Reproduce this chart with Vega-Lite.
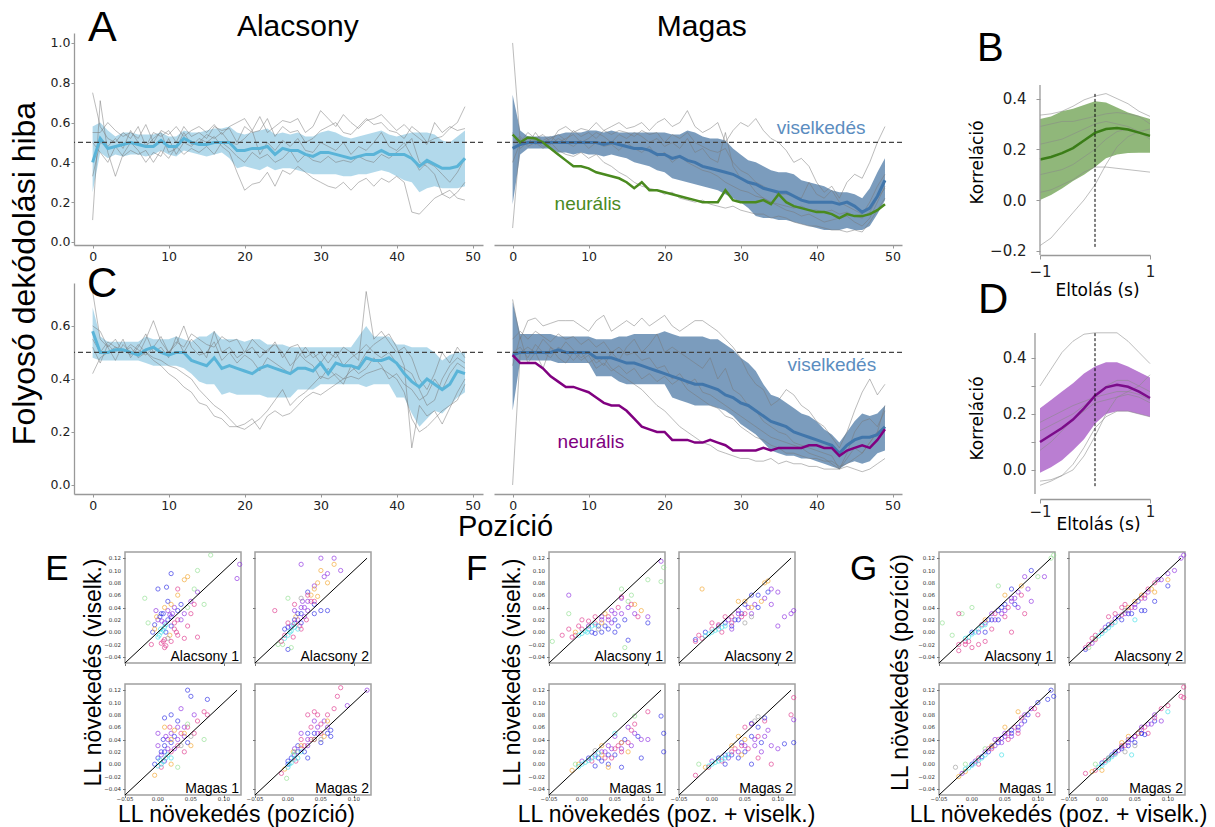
{
"$schema":"https://vega.github.io/schema/vega-lite/v6.json",
"autosize":{"type":"none"},
"padding":{"left":74,"top":33,"right":1141,"bottom":794},
"background":"white",
"spacing":9,
"config":{
 "view":{"stroke":null},
 "axis":{"grid":false,"domainColor":"#999","domainWidth":1.3,"tickColor":"#999","tickWidth":1,"labelFont":"DejaVu Sans","labelColor":"#222","titleFont":"Liberation Sans","titleFontWeight":"normal","titleColor":"#000","labelFlush":false,"labelOverlap":false},
 "text":{"font":"Liberation Sans","color":"#000"}
},
"datasets":{
"yt":[{"t":-0.04},{"t":-0.02},{"t":0},{"t":0.02},{"t":0.04},{"t":0.06},{"t":0.08},{"t":0.1},{"t":0.12}],
"xt":[{"t":-0.05},{"t":0},{"t":0.05},{"t":0.1}],
"a1":[
{"x":0,"m":0.40,"lo":0.25,"hi":0.58,"g1":0.75,"g2":0.11,"g3":0.33,"g4":0.50,"g5":0.55},
{"x":1,"m":0.52,"lo":0.45,"hi":0.60,"g1":0.58,"g2":0.71,"g3":0.50,"g4":0.45,"g5":0.55},
{"x":2,"m":0.47,"lo":0.42,"hi":0.56,"g1":0.52,"g2":0.45,"g3":0.48,"g4":0.40,"g5":0.60},
{"x":3,"m":0.48,"lo":0.44,"hi":0.53,"g1":0.50,"g2":0.33,"g3":0.52,"g4":0.48,"g5":0.56},
{"x":4,"m":0.49,"lo":0.43,"hi":0.55,"g1":0.55,"g2":0.44,"g3":0.47,"g4":0.43,"g5":0.53},
{"x":5,"m":0.50,"lo":0.44,"hi":0.55,"g1":0.52,"g2":0.50,"g3":0.56,"g4":0.46,"g5":0.55},
{"x":6,"m":0.49,"lo":0.44,"hi":0.54,"g1":0.58,"g2":0.46,"g3":0.50,"g4":0.44,"g5":0.52},
{"x":7,"m":0.48,"lo":0.43,"hi":0.54,"g1":0.48,"g2":0.40,"g3":0.48,"g4":0.46,"g5":0.59},
{"x":8,"m":0.48,"lo":0.44,"hi":0.54,"g1":0.55,"g2":0.45,"g3":0.52,"g4":0.40,"g5":0.50},
{"x":9,"m":0.51,"lo":0.46,"hi":0.55,"g1":0.53,"g2":0.43,"g3":0.55,"g4":0.46,"g5":0.56},
{"x":10,"m":0.48,"lo":0.44,"hi":0.53,"g1":0.56,"g2":0.52,"g3":0.45,"g4":0.42,"g5":0.54},
{"x":11,"m":0.48,"lo":0.43,"hi":0.53,"g1":0.50,"g2":0.44,"g3":0.47,"g4":0.48,"g5":0.58},
{"x":12,"m":0.52,"lo":0.46,"hi":0.56,"g1":0.58,"g2":0.50,"g3":0.55,"g4":0.44,"g5":0.53},
{"x":13,"m":0.50,"lo":0.45,"hi":0.55,"g1":0.53,"g2":0.48,"g3":0.49,"g4":0.47,"g5":0.56},
{"x":14,"m":0.49,"lo":0.44,"hi":0.55,"g1":0.55,"g2":0.52,"g3":0.50,"g4":0.45,"g5":0.58},
{"x":15,"m":0.49,"lo":0.43,"hi":0.56,"g1":0.52,"g2":0.50,"g3":0.54,"g4":0.48,"g5":0.55},
{"x":16,"m":0.50,"lo":0.44,"hi":0.57,"g1":0.58,"g2":0.53,"g3":0.52,"g4":0.44,"g5":0.59},
{"x":17,"m":0.50,"lo":0.45,"hi":0.57,"g1":0.56,"g2":0.48,"g3":0.55,"g4":0.50,"g5":0.54},
{"x":18,"m":0.50,"lo":0.42,"hi":0.58,"g1":0.57,"g2":0.45,"g3":0.50,"g4":0.47,"g5":0.58},
{"x":19,"m":0.46,"lo":0.37,"hi":0.55,"g1":0.50,"g2":0.35,"g3":0.49,"g4":0.43,"g5":0.60},
{"x":20,"m":0.46,"lo":0.38,"hi":0.54,"g1":0.58,"g2":0.26,"g3":0.52,"g4":0.40,"g5":0.62},
{"x":21,"m":0.47,"lo":0.37,"hi":0.55,"g1":0.55,"g2":0.29,"g3":0.56,"g4":0.45,"g5":0.56},
{"x":22,"m":0.47,"lo":0.36,"hi":0.56,"g1":0.56,"g2":0.30,"g3":0.44,"g4":0.42,"g5":0.63},
{"x":23,"m":0.48,"lo":0.38,"hi":0.57,"g1":0.62,"g2":0.35,"g3":0.50,"g4":0.44,"g5":0.55},
{"x":24,"m":0.44,"lo":0.36,"hi":0.54,"g1":0.53,"g2":0.28,"g3":0.46,"g4":0.40,"g5":0.58},
{"x":25,"m":0.47,"lo":0.37,"hi":0.55,"g1":0.58,"g2":0.36,"g3":0.51,"g4":0.42,"g5":0.61},
{"x":26,"m":0.46,"lo":0.37,"hi":0.54,"g1":0.55,"g2":0.34,"g3":0.48,"g4":0.46,"g5":0.60},
{"x":27,"m":0.46,"lo":0.36,"hi":0.55,"g1":0.56,"g2":0.38,"g3":0.52,"g4":0.40,"g5":0.62},
{"x":28,"m":0.44,"lo":0.35,"hi":0.53,"g1":0.50,"g2":0.35,"g3":0.46,"g4":0.44,"g5":0.55},
{"x":29,"m":0.43,"lo":0.34,"hi":0.53,"g1":0.52,"g2":0.32,"g3":0.45,"g4":0.41,"g5":0.58},
{"x":30,"m":0.45,"lo":0.34,"hi":0.55,"g1":0.56,"g2":0.30,"g3":0.50,"g4":0.40,"g5":0.66},
{"x":31,"m":0.45,"lo":0.34,"hi":0.56,"g1":0.58,"g2":0.28,"g3":0.48,"g4":0.43,"g5":0.62},
{"x":32,"m":0.44,"lo":0.34,"hi":0.55,"g1":0.60,"g2":0.27,"g3":0.46,"g4":0.40,"g5":0.58},
{"x":33,"m":0.43,"lo":0.33,"hi":0.53,"g1":0.55,"g2":0.30,"g3":0.50,"g4":0.41,"g5":0.64},
{"x":34,"m":0.42,"lo":0.33,"hi":0.52,"g1":0.54,"g2":0.26,"g3":0.44,"g4":0.40,"g5":0.60},
{"x":35,"m":0.43,"lo":0.34,"hi":0.53,"g1":0.58,"g2":0.30,"g3":0.48,"g4":0.43,"g5":0.57},
{"x":36,"m":0.44,"lo":0.34,"hi":0.54,"g1":0.62,"g2":0.32,"g3":0.46,"g4":0.41,"g5":0.61},
{"x":37,"m":0.44,"lo":0.35,"hi":0.55,"g1":0.59,"g2":0.28,"g3":0.50,"g4":0.40,"g5":0.62},
{"x":38,"m":0.46,"lo":0.36,"hi":0.56,"g1":0.60,"g2":0.32,"g3":0.55,"g4":0.44,"g5":0.64},
{"x":39,"m":0.44,"lo":0.35,"hi":0.54,"g1":0.56,"g2":0.30,"g3":0.48,"g4":0.42,"g5":0.60},
{"x":40,"m":0.44,"lo":0.33,"hi":0.53,"g1":0.55,"g2":0.33,"g3":0.46,"g4":0.45,"g5":0.56},
{"x":41,"m":0.44,"lo":0.31,"hi":0.54,"g1":0.52,"g2":0.30,"g3":0.50,"g4":0.48,"g5":0.59},
{"x":42,"m":0.42,"lo":0.30,"hi":0.55,"g1":0.58,"g2":0.15,"g3":0.43,"g4":0.52,"g5":0.55},
{"x":43,"m":0.38,"lo":0.25,"hi":0.55,"g1":0.55,"g2":0.14,"g3":0.36,"g4":0.40,"g5":0.52},
{"x":44,"m":0.41,"lo":0.27,"hi":0.55,"g1":0.50,"g2":0.18,"g3":0.40,"g4":0.38,"g5":0.49},
{"x":45,"m":0.39,"lo":0.28,"hi":0.54,"g1":0.52,"g2":0.22,"g3":0.38,"g4":0.34,"g5":0.60},
{"x":46,"m":0.37,"lo":0.27,"hi":0.51,"g1":0.53,"g2":0.24,"g3":0.34,"g4":0.24,"g5":0.55},
{"x":47,"m":0.37,"lo":0.27,"hi":0.50,"g1":0.57,"g2":0.22,"g3":0.30,"g4":0.26,"g5":0.58},
{"x":48,"m":0.38,"lo":0.27,"hi":0.53,"g1":0.60,"g2":0.25,"g3":0.35,"g4":0.22,"g5":0.56},
{"x":49,"m":0.42,"lo":0.28,"hi":0.56,"g1":0.68,"g2":0.30,"g3":0.42,"g4":0.21,"g5":0.57}
],
"a2":[
{"x":0,"m":0.47,"lo":0.19,"hi":0.74,"n":0.54,"g1":1.00,"g2":0.07,"g3":0.40,"g4":0.55,"g5":0.50},
{"x":1,"m":0.49,"lo":0.44,"hi":0.56,"n":0.50,"g1":0.50,"g2":0.52,"g3":0.50,"g4":0.47,"g5":0.53},
{"x":2,"m":0.50,"lo":0.47,"hi":0.53,"n":0.525,"g1":0.55,"g2":0.48,"g3":0.52,"g4":0.50,"g5":0.49},
{"x":3,"m":0.50,"lo":0.47,"hi":0.53,"n":0.52,"g1":0.52,"g2":0.50,"g3":0.49,"g4":0.51,"g5":0.55},
{"x":4,"m":0.50,"lo":0.47,"hi":0.53,"n":0.50,"g1":0.54,"g2":0.47,"g3":0.51,"g4":0.48,"g5":0.50},
{"x":5,"m":0.50,"lo":0.47,"hi":0.53,"n":0.47,"g1":0.50,"g2":0.50,"g3":0.53,"g4":0.49,"g5":0.52},
{"x":6,"m":0.50,"lo":0.45,"hi":0.54,"n":0.44,"g1":0.56,"g2":0.46,"g3":0.50,"g4":0.52,"g5":0.54},
{"x":7,"m":0.50,"lo":0.45,"hi":0.55,"n":0.41,"g1":0.58,"g2":0.44,"g3":0.52,"g4":0.50,"g5":0.51},
{"x":8,"m":0.50,"lo":0.44,"hi":0.55,"n":0.38,"g1":0.55,"g2":0.43,"g3":0.54,"g4":0.48,"g5":0.56},
{"x":9,"m":0.50,"lo":0.45,"hi":0.55,"n":0.38,"g1":0.57,"g2":0.45,"g3":0.50,"g4":0.51,"g5":0.53},
{"x":10,"m":0.50,"lo":0.44,"hi":0.56,"n":0.37,"g1":0.56,"g2":0.42,"g3":0.52,"g4":0.47,"g5":0.55},
{"x":11,"m":0.50,"lo":0.44,"hi":0.56,"n":0.35,"g1":0.60,"g2":0.44,"g3":0.55,"g4":0.50,"g5":0.52},
{"x":12,"m":0.49,"lo":0.43,"hi":0.55,"n":0.34,"g1":0.56,"g2":0.40,"g3":0.53,"g4":0.48,"g5":0.56},
{"x":13,"m":0.50,"lo":0.44,"hi":0.56,"n":0.33,"g1":0.58,"g2":0.38,"g3":0.50,"g4":0.49,"g5":0.54},
{"x":14,"m":0.49,"lo":0.43,"hi":0.55,"n":0.32,"g1":0.60,"g2":0.35,"g3":0.54,"g4":0.46,"g5":0.56},
{"x":15,"m":0.48,"lo":0.42,"hi":0.55,"n":0.30,"g1":0.57,"g2":0.33,"g3":0.52,"g4":0.50,"g5":0.55},
{"x":16,"m":0.47,"lo":0.40,"hi":0.55,"n":0.27,"g1":0.58,"g2":0.30,"g3":0.55,"g4":0.47,"g5":0.53},
{"x":17,"m":0.47,"lo":0.39,"hi":0.55,"n":0.30,"g1":0.60,"g2":0.28,"g3":0.53,"g4":0.45,"g5":0.56},
{"x":18,"m":0.46,"lo":0.38,"hi":0.55,"n":0.26,"g1":0.56,"g2":0.27,"g3":0.50,"g4":0.48,"g5":0.54},
{"x":19,"m":0.44,"lo":0.36,"hi":0.55,"n":0.26,"g1":0.60,"g2":0.26,"g3":0.52,"g4":0.43,"g5":0.55},
{"x":20,"m":0.44,"lo":0.35,"hi":0.55,"n":0.25,"g1":0.62,"g2":0.24,"g3":0.48,"g4":0.45,"g5":0.50},
{"x":21,"m":0.42,"lo":0.32,"hi":0.54,"n":0.24,"g1":0.58,"g2":0.25,"g3":0.50,"g4":0.40,"g5":0.54},
{"x":22,"m":0.43,"lo":0.31,"hi":0.54,"n":0.23,"g1":0.60,"g2":0.22,"g3":0.47,"g4":0.43,"g5":0.52},
{"x":23,"m":0.41,"lo":0.30,"hi":0.56,"n":0.22,"g1":0.66,"g2":0.21,"g3":0.52,"g4":0.40,"g5":0.55},
{"x":24,"m":0.40,"lo":0.29,"hi":0.55,"n":0.21,"g1":0.58,"g2":0.20,"g3":0.45,"g4":0.38,"g5":0.50},
{"x":25,"m":0.38,"lo":0.28,"hi":0.53,"n":0.20,"g1":0.55,"g2":0.21,"g3":0.47,"g4":0.36,"g5":0.48},
{"x":26,"m":0.37,"lo":0.27,"hi":0.52,"n":0.20,"g1":0.57,"g2":0.19,"g3":0.42,"g4":0.35,"g5":0.46},
{"x":27,"m":0.36,"lo":0.26,"hi":0.52,"n":0.20,"g1":0.60,"g2":0.18,"g3":0.40,"g4":0.33,"g5":0.45},
{"x":28,"m":0.35,"lo":0.24,"hi":0.51,"n":0.26,"g1":0.50,"g2":0.17,"g3":0.55,"g4":0.30,"g5":0.47},
{"x":29,"m":0.34,"lo":0.22,"hi":0.47,"n":0.21,"g1":0.56,"g2":0.18,"g3":0.38,"g4":0.28,"g5":0.40},
{"x":30,"m":0.32,"lo":0.20,"hi":0.44,"n":0.20,"g1":0.60,"g2":0.16,"g3":0.32,"g4":0.26,"g5":0.36},
{"x":31,"m":0.30,"lo":0.17,"hi":0.41,"n":0.20,"g1":0.58,"g2":0.15,"g3":0.30,"g4":0.25,"g5":0.34},
{"x":32,"m":0.29,"lo":0.13,"hi":0.40,"n":0.20,"g1":0.62,"g2":0.14,"g3":0.25,"g4":0.23,"g5":0.30},
{"x":33,"m":0.27,"lo":0.12,"hi":0.38,"n":0.21,"g1":0.56,"g2":0.14,"g3":0.22,"g4":0.22,"g5":0.28},
{"x":34,"m":0.26,"lo":0.12,"hi":0.36,"n":0.19,"g1":0.52,"g2":0.12,"g3":0.20,"g4":0.20,"g5":0.26},
{"x":35,"m":0.25,"lo":0.11,"hi":0.35,"n":0.24,"g1":0.50,"g2":0.13,"g3":0.18,"g4":0.19,"g5":0.24},
{"x":36,"m":0.25,"lo":0.11,"hi":0.35,"n":0.20,"g1":0.46,"g2":0.12,"g3":0.16,"g4":0.18,"g5":0.24},
{"x":37,"m":0.23,"lo":0.10,"hi":0.34,"n":0.18,"g1":0.40,"g2":0.10,"g3":0.15,"g4":0.17,"g5":0.23},
{"x":38,"m":0.21,"lo":0.09,"hi":0.31,"n":0.17,"g1":0.42,"g2":0.09,"g3":0.13,"g4":0.18,"g5":0.22},
{"x":39,"m":0.20,"lo":0.08,"hi":0.30,"n":0.16,"g1":0.38,"g2":0.08,"g3":0.14,"g4":0.16,"g5":0.30},
{"x":40,"m":0.20,"lo":0.07,"hi":0.29,"n":0.15,"g1":0.30,"g2":0.08,"g3":0.12,"g4":0.16,"g5":0.24},
{"x":41,"m":0.20,"lo":0.06,"hi":0.28,"n":0.15,"g1":0.25,"g2":0.07,"g3":0.10,"g4":0.15,"g5":0.22},
{"x":42,"m":0.20,"lo":0.06,"hi":0.26,"n":0.14,"g1":0.28,"g2":0.06,"g3":0.11,"g4":0.16,"g5":0.26},
{"x":43,"m":0.19,"lo":0.06,"hi":0.25,"n":0.12,"g1":0.22,"g2":0.06,"g3":0.12,"g4":0.14,"g5":0.20},
{"x":44,"m":0.20,"lo":0.07,"hi":0.25,"n":0.14,"g1":0.30,"g2":0.05,"g3":0.13,"g4":0.15,"g5":0.18},
{"x":45,"m":0.18,"lo":0.06,"hi":0.24,"n":0.13,"g1":0.34,"g2":0.06,"g3":0.10,"g4":0.13,"g5":0.16},
{"x":46,"m":0.15,"lo":0.06,"hi":0.22,"n":0.13,"g1":0.32,"g2":0.05,"g3":0.08,"g4":0.12,"g5":0.14},
{"x":47,"m":0.17,"lo":0.08,"hi":0.27,"n":0.14,"g1":0.40,"g2":0.10,"g3":0.12,"g4":0.15,"g5":0.20},
{"x":48,"m":0.23,"lo":0.14,"hi":0.35,"n":0.16,"g1":0.50,"g2":0.16,"g3":0.20,"g4":0.22,"g5":0.28},
{"x":49,"m":0.31,"lo":0.21,"hi":0.42,"n":0.19,"g1":0.58,"g2":0.22,"g3":0.28,"g4":0.27,"g5":0.34}
],
"c1":[
{"x":0,"m":0.58,"lo":0.48,"hi":0.67,"g1":0.73,"g2":0.42,"g3":0.52,"g4":0.60,"g5":0.55},
{"x":1,"m":0.50,"lo":0.47,"hi":0.56,"g1":0.55,"g2":0.48,"g3":0.46,"g4":0.58,"g5":0.50},
{"x":2,"m":0.50,"lo":0.47,"hi":0.54,"g1":0.52,"g2":0.50,"g3":0.53,"g4":0.52,"g5":0.54},
{"x":3,"m":0.51,"lo":0.47,"hi":0.54,"g1":0.55,"g2":0.52,"g3":0.50,"g4":0.47,"g5":0.52},
{"x":4,"m":0.51,"lo":0.47,"hi":0.54,"g1":0.50,"g2":0.51,"g3":0.55,"g4":0.53,"g5":0.50},
{"x":5,"m":0.50,"lo":0.47,"hi":0.54,"g1":0.52,"g2":0.49,"g3":0.48,"g4":0.50,"g5":0.53},
{"x":6,"m":0.49,"lo":0.47,"hi":0.54,"g1":0.48,"g2":0.53,"g3":0.52,"g4":0.49,"g5":0.51},
{"x":7,"m":0.51,"lo":0.46,"hi":0.56,"g1":0.50,"g2":0.50,"g3":0.57,"g4":0.55,"g5":0.49},
{"x":8,"m":0.52,"lo":0.45,"hi":0.55,"g1":0.47,"g2":0.48,"g3":0.50,"g4":0.62,"g5":0.52},
{"x":9,"m":0.50,"lo":0.45,"hi":0.55,"g1":0.45,"g2":0.47,"g3":0.52,"g4":0.54,"g5":0.56},
{"x":10,"m":0.49,"lo":0.45,"hi":0.55,"g1":0.42,"g2":0.45,"g3":0.48,"g4":0.50,"g5":0.50},
{"x":11,"m":0.50,"lo":0.45,"hi":0.56,"g1":0.40,"g2":0.44,"g3":0.56,"g4":0.53,"g5":0.54},
{"x":12,"m":0.50,"lo":0.44,"hi":0.55,"g1":0.37,"g2":0.42,"g3":0.50,"g4":0.60,"g5":0.52},
{"x":13,"m":0.47,"lo":0.42,"hi":0.54,"g1":0.35,"g2":0.40,"g3":0.55,"g4":0.52,"g5":0.57},
{"x":14,"m":0.46,"lo":0.39,"hi":0.56,"g1":0.31,"g2":0.36,"g3":0.52,"g4":0.49,"g5":0.55},
{"x":15,"m":0.45,"lo":0.38,"hi":0.56,"g1":0.30,"g2":0.33,"g3":0.48,"g4":0.50,"g5":0.53},
{"x":16,"m":0.48,"lo":0.38,"hi":0.58,"g1":0.26,"g2":0.30,"g3":0.58,"g4":0.54,"g5":0.52},
{"x":17,"m":0.44,"lo":0.34,"hi":0.55,"g1":0.25,"g2":0.28,"g3":0.50,"g4":0.47,"g5":0.56},
{"x":18,"m":0.45,"lo":0.35,"hi":0.55,"g1":0.22,"g2":0.25,"g3":0.52,"g4":0.50,"g5":0.54},
{"x":19,"m":0.44,"lo":0.34,"hi":0.55,"g1":0.22,"g2":0.22,"g3":0.48,"g4":0.46,"g5":0.55},
{"x":20,"m":0.43,"lo":0.34,"hi":0.54,"g1":0.23,"g2":0.21,"g3":0.50,"g4":0.49,"g5":0.50},
{"x":21,"m":0.42,"lo":0.34,"hi":0.55,"g1":0.25,"g2":0.23,"g3":0.55,"g4":0.47,"g5":0.52},
{"x":22,"m":0.44,"lo":0.34,"hi":0.55,"g1":0.21,"g2":0.25,"g3":0.52,"g4":0.43,"g5":0.48},
{"x":23,"m":0.45,"lo":0.33,"hi":0.53,"g1":0.26,"g2":0.28,"g3":0.50,"g4":0.48,"g5":0.51},
{"x":24,"m":0.44,"lo":0.33,"hi":0.53,"g1":0.28,"g2":0.32,"g3":0.54,"g4":0.46,"g5":0.53},
{"x":25,"m":0.43,"lo":0.33,"hi":0.53,"g1":0.26,"g2":0.36,"g3":0.48,"g4":0.44,"g5":0.50},
{"x":26,"m":0.42,"lo":0.33,"hi":0.52,"g1":0.27,"g2":0.30,"g3":0.52,"g4":0.42,"g5":0.45},
{"x":27,"m":0.44,"lo":0.36,"hi":0.52,"g1":0.30,"g2":0.33,"g3":0.53,"g4":0.50,"g5":0.48},
{"x":28,"m":0.44,"lo":0.36,"hi":0.52,"g1":0.33,"g2":0.35,"g3":0.48,"g4":0.47,"g5":0.52},
{"x":29,"m":0.43,"lo":0.36,"hi":0.52,"g1":0.35,"g2":0.38,"g3":0.50,"g4":0.45,"g5":0.48},
{"x":30,"m":0.46,"lo":0.38,"hi":0.52,"g1":0.34,"g2":0.41,"g3":0.46,"g4":0.40,"g5":0.50},
{"x":31,"m":0.42,"lo":0.38,"hi":0.52,"g1":0.36,"g2":0.40,"g3":0.50,"g4":0.44,"g5":0.46},
{"x":32,"m":0.46,"lo":0.38,"hi":0.52,"g1":0.38,"g2":0.42,"g3":0.48,"g4":0.41,"g5":0.50},
{"x":33,"m":0.45,"lo":0.38,"hi":0.52,"g1":0.40,"g2":0.40,"g3":0.52,"g4":0.38,"g5":0.45},
{"x":34,"m":0.45,"lo":0.38,"hi":0.52,"g1":0.41,"g2":0.43,"g3":0.50,"g4":0.45,"g5":0.48},
{"x":35,"m":0.44,"lo":0.38,"hi":0.56,"g1":0.40,"g2":0.45,"g3":0.47,"g4":0.42,"g5":0.50},
{"x":36,"m":0.48,"lo":0.37,"hi":0.60,"g1":0.42,"g2":0.50,"g3":0.73,"g4":0.44,"g5":0.53},
{"x":37,"m":0.47,"lo":0.38,"hi":0.56,"g1":0.43,"g2":0.53,"g3":0.55,"g4":0.48,"g5":0.50},
{"x":38,"m":0.47,"lo":0.38,"hi":0.56,"g1":0.44,"g2":0.55,"g3":0.58,"g4":0.45,"g5":0.48},
{"x":39,"m":0.48,"lo":0.38,"hi":0.56,"g1":0.42,"g2":0.57,"g3":0.54,"g4":0.40,"g5":0.50},
{"x":40,"m":0.46,"lo":0.33,"hi":0.53,"g1":0.40,"g2":0.52,"g3":0.50,"g4":0.42,"g5":0.46},
{"x":41,"m":0.42,"lo":0.33,"hi":0.53,"g1":0.35,"g2":0.45,"g3":0.52,"g4":0.38,"g5":0.44},
{"x":42,"m":0.39,"lo":0.27,"hi":0.52,"g1":0.25,"g2":0.14,"g3":0.48,"g4":0.36,"g5":0.42},
{"x":43,"m":0.37,"lo":0.22,"hi":0.52,"g1":0.20,"g2":0.30,"g3":0.40,"g4":0.32,"g5":0.36},
{"x":44,"m":0.40,"lo":0.25,"hi":0.52,"g1":0.22,"g2":0.26,"g3":0.36,"g4":0.34,"g5":0.30},
{"x":45,"m":0.38,"lo":0.28,"hi":0.50,"g1":0.25,"g2":0.28,"g3":0.42,"g4":0.40,"g5":0.32},
{"x":46,"m":0.36,"lo":0.27,"hi":0.47,"g1":0.28,"g2":0.23,"g3":0.50,"g4":0.36,"g5":0.40},
{"x":47,"m":0.38,"lo":0.30,"hi":0.49,"g1":0.30,"g2":0.29,"g3":0.46,"g4":0.42,"g5":0.45},
{"x":48,"m":0.43,"lo":0.33,"hi":0.50,"g1":0.32,"g2":0.35,"g3":0.52,"g4":0.46,"g5":0.48},
{"x":49,"m":0.42,"lo":0.35,"hi":0.50,"g1":0.38,"g2":0.40,"g3":0.48,"g4":0.44,"g5":0.46}
],
"c2":[
{"x":0,"m":0.49,"lo":0.28,"hi":0.69,"n":0.49,"g1":0.70,"g2":0.00,"g3":0.55,"g4":0.50,"g5":0.45},
{"x":1,"m":0.50,"lo":0.47,"hi":0.57,"n":0.46,"g1":0.55,"g2":0.50,"g3":0.58,"g4":0.52,"g5":0.56},
{"x":2,"m":0.50,"lo":0.47,"hi":0.57,"n":0.46,"g1":0.62,"g2":0.52,"g3":0.55,"g4":0.48,"g5":0.46},
{"x":3,"m":0.50,"lo":0.47,"hi":0.57,"n":0.46,"g1":0.63,"g2":0.50,"g3":0.58,"g4":0.53,"g5":0.50},
{"x":4,"m":0.50,"lo":0.47,"hi":0.57,"n":0.44,"g1":0.60,"g2":0.55,"g3":0.56,"g4":0.50,"g5":0.44},
{"x":5,"m":0.50,"lo":0.47,"hi":0.57,"n":0.41,"g1":0.61,"g2":0.52,"g3":0.54,"g4":0.48,"g5":0.52},
{"x":6,"m":0.51,"lo":0.46,"hi":0.56,"n":0.39,"g1":0.62,"g2":0.50,"g3":0.57,"g4":0.52,"g5":0.48},
{"x":7,"m":0.50,"lo":0.46,"hi":0.56,"n":0.37,"g1":0.62,"g2":0.54,"g3":0.55,"g4":0.50,"g5":0.46},
{"x":8,"m":0.50,"lo":0.46,"hi":0.56,"n":0.37,"g1":0.62,"g2":0.51,"g3":0.56,"g4":0.47,"g5":0.50},
{"x":9,"m":0.50,"lo":0.46,"hi":0.56,"n":0.36,"g1":0.60,"g2":0.48,"g3":0.53,"g4":0.50,"g5":0.47},
{"x":10,"m":0.50,"lo":0.46,"hi":0.56,"n":0.35,"g1":0.58,"g2":0.50,"g3":0.55,"g4":0.46,"g5":0.49},
{"x":11,"m":0.48,"lo":0.41,"hi":0.55,"n":0.33,"g1":0.62,"g2":0.46,"g3":0.52,"g4":0.48,"g5":0.44},
{"x":12,"m":0.48,"lo":0.41,"hi":0.55,"n":0.31,"g1":0.64,"g2":0.48,"g3":0.54,"g4":0.45,"g5":0.46},
{"x":13,"m":0.48,"lo":0.41,"hi":0.55,"n":0.30,"g1":0.58,"g2":0.44,"g3":0.50,"g4":0.50,"g5":0.43},
{"x":14,"m":0.47,"lo":0.39,"hi":0.56,"n":0.30,"g1":0.60,"g2":0.42,"g3":0.52,"g4":0.47,"g5":0.45},
{"x":15,"m":0.46,"lo":0.38,"hi":0.56,"n":0.28,"g1":0.62,"g2":0.40,"g3":0.49,"g4":0.52,"g5":0.42},
{"x":16,"m":0.46,"lo":0.38,"hi":0.57,"n":0.25,"g1":0.60,"g2":0.38,"g3":0.50,"g4":0.55,"g5":0.44},
{"x":17,"m":0.45,"lo":0.38,"hi":0.57,"n":0.22,"g1":0.63,"g2":0.36,"g3":0.47,"g4":0.50,"g5":0.40},
{"x":18,"m":0.44,"lo":0.38,"hi":0.57,"n":0.21,"g1":0.60,"g2":0.33,"g3":0.48,"g4":0.53,"g5":0.42},
{"x":19,"m":0.43,"lo":0.38,"hi":0.57,"n":0.20,"g1":0.62,"g2":0.30,"g3":0.44,"g4":0.57,"g5":0.39},
{"x":20,"m":0.42,"lo":0.38,"hi":0.58,"n":0.20,"g1":0.64,"g2":0.28,"g3":0.45,"g4":0.50,"g5":0.41},
{"x":21,"m":0.41,"lo":0.33,"hi":0.57,"n":0.17,"g1":0.60,"g2":0.25,"g3":0.40,"g4":0.52,"g5":0.38},
{"x":22,"m":0.40,"lo":0.32,"hi":0.56,"n":0.17,"g1":0.58,"g2":0.22,"g3":0.42,"g4":0.50,"g5":0.40},
{"x":23,"m":0.39,"lo":0.31,"hi":0.56,"n":0.17,"g1":0.60,"g2":0.20,"g3":0.38,"g4":0.48,"g5":0.36},
{"x":24,"m":0.38,"lo":0.30,"hi":0.56,"n":0.16,"g1":0.62,"g2":0.18,"g3":0.40,"g4":0.46,"g5":0.34},
{"x":25,"m":0.38,"lo":0.30,"hi":0.56,"n":0.16,"g1":0.62,"g2":0.16,"g3":0.35,"g4":0.44,"g5":0.32},
{"x":26,"m":0.37,"lo":0.30,"hi":0.55,"n":0.17,"g1":0.60,"g2":0.15,"g3":0.34,"g4":0.48,"g5":0.30},
{"x":27,"m":0.36,"lo":0.29,"hi":0.55,"n":0.16,"g1":0.58,"g2":0.13,"g3":0.32,"g4":0.40,"g5":0.29},
{"x":28,"m":0.34,"lo":0.28,"hi":0.53,"n":0.15,"g1":0.55,"g2":0.12,"g3":0.30,"g4":0.44,"g5":0.26},
{"x":29,"m":0.33,"lo":0.26,"hi":0.51,"n":0.13,"g1":0.52,"g2":0.11,"g3":0.28,"g4":0.36,"g5":0.25},
{"x":30,"m":0.31,"lo":0.23,"hi":0.48,"n":0.13,"g1":0.48,"g2":0.10,"g3":0.26,"g4":0.34,"g5":0.22},
{"x":31,"m":0.30,"lo":0.21,"hi":0.46,"n":0.13,"g1":0.42,"g2":0.10,"g3":0.24,"g4":0.30,"g5":0.20},
{"x":32,"m":0.28,"lo":0.19,"hi":0.43,"n":0.13,"g1":0.38,"g2":0.09,"g3":0.22,"g4":0.28,"g5":0.18},
{"x":33,"m":0.26,"lo":0.16,"hi":0.38,"n":0.14,"g1":0.36,"g2":0.09,"g3":0.20,"g4":0.24,"g5":0.17},
{"x":34,"m":0.24,"lo":0.13,"hi":0.34,"n":0.13,"g1":0.30,"g2":0.10,"g3":0.18,"g4":0.22,"g5":0.15},
{"x":35,"m":0.23,"lo":0.12,"hi":0.33,"n":0.14,"g1":0.32,"g2":0.08,"g3":0.17,"g4":0.20,"g5":0.14},
{"x":36,"m":0.22,"lo":0.11,"hi":0.31,"n":0.14,"g1":0.36,"g2":0.09,"g3":0.16,"g4":0.19,"g5":0.12},
{"x":37,"m":0.20,"lo":0.11,"hi":0.29,"n":0.14,"g1":0.34,"g2":0.08,"g3":0.15,"g4":0.16,"g5":0.12},
{"x":38,"m":0.19,"lo":0.10,"hi":0.27,"n":0.14,"g1":0.30,"g2":0.08,"g3":0.14,"g4":0.15,"g5":0.11},
{"x":39,"m":0.18,"lo":0.10,"hi":0.26,"n":0.15,"g1":0.28,"g2":0.07,"g3":0.12,"g4":0.14,"g5":0.10},
{"x":40,"m":0.17,"lo":0.09,"hi":0.24,"n":0.15,"g1":0.24,"g2":0.07,"g3":0.11,"g4":0.13,"g5":0.10},
{"x":41,"m":0.16,"lo":0.08,"hi":0.21,"n":0.14,"g1":0.22,"g2":0.06,"g3":0.10,"g4":0.12,"g5":0.09},
{"x":42,"m":0.15,"lo":0.07,"hi":0.19,"n":0.14,"g1":0.18,"g2":0.06,"g3":0.08,"g4":0.11,"g5":0.09},
{"x":43,"m":0.12,"lo":0.06,"hi":0.16,"n":0.11,"g1":0.14,"g2":0.06,"g3":0.06,"g4":0.06,"g5":0.07},
{"x":44,"m":0.15,"lo":0.08,"hi":0.20,"n":0.13,"g1":0.20,"g2":0.07,"g3":0.12,"g4":0.10,"g5":0.08},
{"x":45,"m":0.17,"lo":0.09,"hi":0.24,"n":0.14,"g1":0.28,"g2":0.06,"g3":0.20,"g4":0.14,"g5":0.10},
{"x":46,"m":0.18,"lo":0.08,"hi":0.27,"n":0.15,"g1":0.35,"g2":0.05,"g3":0.24,"g4":0.12,"g5":0.12},
{"x":47,"m":0.18,"lo":0.09,"hi":0.26,"n":0.14,"g1":0.40,"g2":0.06,"g3":0.25,"g4":0.16,"g5":0.16},
{"x":48,"m":0.19,"lo":0.12,"hi":0.27,"n":0.17,"g1":0.34,"g2":0.08,"g3":0.22,"g4":0.20,"g5":0.20},
{"x":49,"m":0.22,"lo":0.13,"hi":0.30,"n":0.21,"g1":0.38,"g2":0.10,"g3":0.28,"g4":0.22,"g5":0.30}
],
"b":[
{"x":-1.0,"m":0.16,"lo":0.00,"hi":0.32,"g1":0.335,"g2":-0.18,"g3":0.03,"g4":0.10,"g5":0.29,"g6":0.22},
{"x":-0.8,"m":0.17,"lo":0.02,"hi":0.33,"g1":0.34,"g2":-0.15,"g3":0.04,"g4":0.11,"g5":0.30,"g6":0.23},
{"x":-0.6,"m":0.185,"lo":0.045,"hi":0.35,"g1":0.35,"g2":-0.10,"g3":0.06,"g4":0.12,"g5":0.31,"g6":0.24},
{"x":-0.4,"m":0.205,"lo":0.075,"hi":0.36,"g1":0.37,"g2":-0.05,"g3":0.08,"g4":0.14,"g5":0.31,"g6":0.26},
{"x":-0.2,"m":0.235,"lo":0.10,"hi":0.375,"g1":0.395,"g2":0.0,"g3":0.11,"g4":0.17,"g5":0.32,"g6":0.28},
{"x":0.0,"m":0.265,"lo":0.13,"hi":0.39,"g1":0.41,"g2":0.06,"g3":0.13,"g4":0.20,"g5":0.33,"g6":0.30},
{"x":0.2,"m":0.28,"lo":0.165,"hi":0.385,"g1":0.42,"g2":0.14,"g3":0.13,"g4":0.24,"g5":0.34,"g6":0.31},
{"x":0.4,"m":0.284,"lo":0.18,"hi":0.365,"g1":0.40,"g2":0.21,"g3":0.125,"g4":0.27,"g5":0.345,"g6":0.30},
{"x":0.6,"m":0.278,"lo":0.185,"hi":0.345,"g1":0.38,"g2":0.25,"g3":0.12,"g4":0.28,"g5":0.34,"g6":0.29},
{"x":0.8,"m":0.266,"lo":0.186,"hi":0.332,"g1":0.35,"g2":0.27,"g3":0.115,"g4":0.27,"g5":0.33,"g6":0.27},
{"x":1.0,"m":0.253,"lo":0.186,"hi":0.32,"g1":0.33,"g2":0.28,"g3":0.11,"g4":0.25,"g5":0.30,"g6":0.24}
],
"d":[
{"x":-1.0,"m":0.10,"lo":-0.01,"hi":0.22,"g1":0.30,"g2":-0.055,"g3":-0.04,"g4":0.17,"g5":0.07,"g6":0.14},
{"x":-0.8,"m":0.125,"lo":0.01,"hi":0.25,"g1":0.36,"g2":-0.04,"g3":-0.035,"g4":0.19,"g5":0.10,"g6":0.16},
{"x":-0.6,"m":0.15,"lo":0.035,"hi":0.28,"g1":0.42,"g2":-0.02,"g3":-0.02,"g4":0.21,"g5":0.14,"g6":0.18},
{"x":-0.4,"m":0.18,"lo":0.07,"hi":0.31,"g1":0.46,"g2":0.02,"g3":0.0,"g4":0.23,"g5":0.18,"g6":0.20},
{"x":-0.2,"m":0.22,"lo":0.11,"hi":0.345,"g1":0.485,"g2":0.08,"g3":0.05,"g4":0.245,"g5":0.21,"g6":0.23},
{"x":0.0,"m":0.265,"lo":0.165,"hi":0.37,"g1":0.49,"g2":0.15,"g3":0.12,"g4":0.26,"g5":0.24,"g6":0.26},
{"x":0.2,"m":0.295,"lo":0.20,"hi":0.385,"g1":0.49,"g2":0.19,"g3":0.20,"g4":0.27,"g5":0.25,"g6":0.30},
{"x":0.4,"m":0.304,"lo":0.21,"hi":0.385,"g1":0.49,"g2":0.21,"g3":0.26,"g4":0.28,"g5":0.26,"g6":0.32},
{"x":0.6,"m":0.297,"lo":0.21,"hi":0.37,"g1":0.46,"g2":0.21,"g3":0.28,"g4":0.28,"g5":0.27,"g6":0.32},
{"x":0.8,"m":0.28,"lo":0.20,"hi":0.35,"g1":0.42,"g2":0.20,"g3":0.30,"g4":0.27,"g5":0.26,"g6":0.30},
{"x":1.0,"m":0.257,"lo":0.19,"hi":0.33,"g1":0.38,"g2":0.19,"g3":0.34,"g4":0.25,"g5":0.24,"g6":0.28}
],
"e1":[
{"x":0.0,"y":0.02,"c":0},{"x":0.005,"y":0.03,"c":1},{"x":0.01,"y":-0.012,"c":2},{"x":0.015,"y":0.035,"c":0},{"x":0.02,"y":0.025,"c":1},{"x":0.025,"y":0.015,"c":2},{"x":0.008,"y":-0.015,"c":2},{"x":-0.008,"y":0.0,"c":1},{"x":0.018,"y":-0.005,"c":3},{"x":0.022,"y":0.03,"c":0},{"x":0.035,"y":0.045,"c":1},{"x":0.04,"y":0.03,"c":0},{"x":0.015,"y":0.05,"c":1},{"x":0.028,"y":0.0,"c":2},{"x":-0.002,"y":0.025,"c":3},{"x":0.006,"y":0.018,"c":0},{"x":0.012,"y":0.0,"c":1},{"x":0.03,"y":0.02,"c":2},{"x":0.045,"y":0.04,"c":4},{"x":0.01,"y":-0.025,"c":2},
{"x":-0.005,"y":0.012,"c":1},{"x":0.003,"y":0.025,"c":1},{"x":0.008,"y":0.03,"c":1},{"x":0.015,"y":0.02,"c":1},{"x":0.0,"y":0.07,"c":1},{"x":0.02,"y":0.095,"c":1},{"x":0.013,"y":0.073,"c":1},{"x":0.02,"y":0.01,"c":1},{"x":0.03,"y":0.035,"c":1},
{"x":0.01,"y":0.015,"c":0},{"x":0.018,"y":0.028,"c":0},{"x":0.025,"y":0.04,"c":0},{"x":0.035,"y":0.02,"c":0},{"x":0.05,"y":0.05,"c":0},{"x":0.12,"y":0.087,"c":0},{"x":0.124,"y":0.11,"c":0},{"x":0.06,"y":0.065,"c":0},{"x":-0.003,"y":0.035,"c":0},
{"x":0.005,"y":-0.018,"c":2},{"x":0.012,"y":-0.022,"c":2},{"x":0.02,"y":-0.015,"c":2},{"x":0.03,"y":-0.005,"c":2},{"x":0.04,"y":-0.01,"c":2},{"x":0.05,"y":0.03,"c":2},{"x":0.06,"y":-0.008,"c":2},{"x":0.045,"y":0.01,"c":2},{"x":-0.01,"y":-0.02,"c":2},{"x":0.025,"y":0.005,"c":2},{"x":0.055,"y":0.045,"c":2},{"x":0.03,"y":0.07,"c":2},
{"x":0.04,"y":0.085,"c":3},{"x":0.045,"y":0.09,"c":3},{"x":0.03,"y":0.06,"c":3},{"x":0.01,"y":0.04,"c":3},{"x":0.02,"y":0.045,"c":3},{"x":-0.005,"y":0.005,"c":3},
{"x":0.06,"y":0.1,"c":4},{"x":0.08,"y":0.125,"c":4},{"x":0.07,"y":0.045,"c":4},{"x":-0.02,"y":0.055,"c":4},{"x":0.055,"y":0.07,"c":4},{"x":-0.015,"y":0.015,"c":4},
{"x":0.015,"y":-0.01,"c":6},
{"x":0.002,"y":-0.005,"c":5},{"x":0.005,"y":0.0,"c":5},{"x":0.008,"y":0.003,"c":5},{"x":0.01,"y":0.008,"c":5},{"x":0.0,"y":-0.008,"c":5},{"x":0.012,"y":0.012,"c":5},{"x":0.004,"y":0.005,"c":5}
],
"e2":[
{"x":0.005,"y":0.01,"c":0},{"x":0.01,"y":0.015,"c":2},{"x":0.015,"y":0.02,"c":0},{"x":0.02,"y":0.03,"c":1},{"x":0.025,"y":0.04,"c":0},{"x":-0.005,"y":-0.005,"c":2},{"x":0.0,"y":0.008,"c":1},{"x":0.012,"y":0.025,"c":3},{"x":0.018,"y":0.01,"c":2},{"x":0.03,"y":0.035,"c":0},{"x":0.035,"y":0.05,"c":2},{"x":0.04,"y":0.045,"c":1},{"x":0.008,"y":-0.008,"c":2},{"x":-0.008,"y":-0.02,"c":4},{"x":0.022,"y":0.05,"c":0},{"x":0.028,"y":0.02,"c":2},{"x":0.045,"y":0.08,"c":3},{"x":0.055,"y":0.09,"c":0},
{"x":0.0,"y":-0.028,"c":1},{"x":-0.005,"y":0.005,"c":1},{"x":0.01,"y":0.02,"c":1},{"x":0.05,"y":0.035,"c":1},{"x":0.06,"y":0.035,"c":1},{"x":0.04,"y":0.03,"c":1},{"x":0.03,"y":0.065,"c":1},{"x":0.015,"y":0.03,"c":1},{"x":0.02,"y":0.015,"c":1},
{"x":0.02,"y":0.11,"c":0},{"x":0.07,"y":0.12,"c":0},{"x":0.05,"y":0.12,"c":0},{"x":0.06,"y":0.095,"c":0},{"x":0.08,"y":0.1,"c":0},{"x":0.01,"y":0.035,"c":0},{"x":0.02,"y":0.04,"c":0},{"x":0.025,"y":0.025,"c":0},{"x":0.03,"y":0.05,"c":0},{"x":0.04,"y":0.075,"c":0},
{"x":0.05,"y":0.1,"c":3},{"x":0.07,"y":0.11,"c":3},{"x":0.04,"y":0.07,"c":3},{"x":0.06,"y":0.08,"c":3},{"x":0.035,"y":0.06,"c":3},{"x":0.045,"y":0.058,"c":3},
{"x":0.03,"y":0.06,"c":2},{"x":0.01,"y":0.045,"c":2},{"x":-0.02,"y":0.035,"c":2},{"x":0.04,"y":0.05,"c":2},{"x":0.0,"y":0.015,"c":2},{"x":0.02,"y":0.005,"c":2},{"x":-0.01,"y":-0.015,"c":2},
{"x":-0.015,"y":-0.02,"c":4},{"x":0.005,"y":-0.025,"c":4},{"x":0.0,"y":0.055,"c":4},
{"x":0.02,"y":0.055,"c":6},
{"x":0.0,"y":-0.005,"c":5},{"x":0.005,"y":0.002,"c":5},{"x":-0.005,"y":-0.01,"c":5},{"x":0.01,"y":0.008,"c":5},{"x":0.003,"y":0.0,"c":5},{"x":0.008,"y":0.012,"c":5},{"x":0.015,"y":0.005,"c":5}
],
"e3":[
{"x":0.005,"y":0.015,"c":0},{"x":0.01,"y":0.02,"c":1},{"x":0.015,"y":0.025,"c":0},{"x":0.02,"y":0.035,"c":1},{"x":0.0,"y":0.03,"c":0},{"x":0.008,"y":0.04,"c":1},{"x":0.012,"y":0.045,"c":0},{"x":0.018,"y":0.06,"c":2},{"x":0.025,"y":0.045,"c":1},{"x":0.03,"y":0.04,"c":0},{"x":0.035,"y":0.05,"c":2},{"x":0.04,"y":0.06,"c":0},{"x":0.005,"y":-0.005,"c":2},{"x":-0.005,"y":0.0,"c":1},{"x":0.02,"y":0.0,"c":3},{"x":0.01,"y":0.06,"c":3},{"x":0.045,"y":0.035,"c":1},{"x":0.055,"y":0.05,"c":2},
{"x":0.045,"y":0.12,"c":1},{"x":0.05,"y":0.11,"c":1},{"x":0.075,"y":0.105,"c":1},{"x":0.01,"y":0.075,"c":1},{"x":0.02,"y":0.08,"c":1},{"x":0.03,"y":0.07,"c":1},{"x":0.005,"y":0.02,"c":1},{"x":0.01,"y":0.03,"c":1},{"x":0.0,"y":0.01,"c":1},
{"x":0.0,"y":0.05,"c":0},{"x":0.02,"y":0.05,"c":0},{"x":0.04,"y":0.045,"c":0},{"x":0.035,"y":0.09,"c":0},{"x":0.055,"y":0.08,"c":0},{"x":0.015,"y":0.04,"c":0},{"x":0.025,"y":0.025,"c":0},{"x":0.03,"y":0.06,"c":0},{"x":0.01,"y":0.005,"c":0},
{"x":0.06,"y":0.07,"c":2},{"x":0.07,"y":0.085,"c":2},{"x":0.075,"y":0.08,"c":2},{"x":0.03,"y":0.03,"c":2},{"x":0.04,"y":0.02,"c":2},{"x":0.045,"y":0.06,"c":2},{"x":0.02,"y":0.02,"c":2},
{"x":0.02,"y":0.04,"c":3},{"x":0.04,"y":0.05,"c":3},{"x":-0.005,"y":-0.018,"c":3},{"x":0.05,"y":0.03,"c":3},{"x":0.025,"y":0.055,"c":3},
{"x":0.07,"y":0.04,"c":4},{"x":0.03,"y":-0.005,"c":4},{"x":0.045,"y":0.065,"c":4},
{"x":0.05,"y":0.045,"c":6},{"x":0.035,"y":0.03,"c":6},
{"x":0.0,"y":-0.003,"c":5},{"x":0.005,"y":0.0,"c":5},{"x":0.008,"y":0.004,"c":5},{"x":0.012,"y":0.01,"c":5},{"x":0.003,"y":0.007,"c":5},{"x":0.015,"y":0.015,"c":5},{"x":0.02,"y":0.01,"c":5}
],
"e4":[
{"x":0.005,"y":0.01,"c":1},{"x":0.01,"y":0.015,"c":0},{"x":0.015,"y":0.03,"c":1},{"x":0.02,"y":0.025,"c":0},{"x":0.025,"y":0.02,"c":1},{"x":0.03,"y":0.03,"c":0},{"x":0.035,"y":0.04,"c":2},{"x":0.04,"y":0.05,"c":1},{"x":0.045,"y":0.06,"c":0},{"x":0.05,"y":0.05,"c":2},{"x":0.055,"y":0.07,"c":0},{"x":0.012,"y":0.005,"c":2},{"x":0.0,"y":0.0,"c":1},{"x":-0.005,"y":-0.008,"c":3},{"x":0.02,"y":0.04,"c":2},{"x":0.03,"y":0.05,"c":1},{"x":0.06,"y":0.08,"c":2},{"x":0.008,"y":0.02,"c":3},
{"x":0.03,"y":0.08,"c":2},{"x":0.04,"y":0.085,"c":2},{"x":0.045,"y":0.08,"c":2},{"x":0.05,"y":0.065,"c":2},{"x":0.07,"y":0.09,"c":2},{"x":0.075,"y":0.11,"c":2},{"x":0.08,"y":0.124,"c":2},{"x":0.035,"y":0.06,"c":2},{"x":-0.01,"y":-0.015,"c":2},{"x":0.025,"y":0.03,"c":2},
{"x":0.02,"y":0.05,"c":0},{"x":0.04,"y":0.07,"c":0},{"x":0.06,"y":0.06,"c":0},{"x":0.12,"y":0.12,"c":0},{"x":0.09,"y":0.095,"c":0},{"x":0.01,"y":0.025,"c":0},{"x":0.03,"y":0.04,"c":0},{"x":0.045,"y":0.05,"c":0},
{"x":0.06,"y":0.05,"c":1},{"x":0.065,"y":0.055,"c":1},{"x":0.04,"y":0.04,"c":1},{"x":0.03,"y":0.01,"c":1},{"x":0.05,"y":0.035,"c":1},{"x":0.015,"y":0.02,"c":1},{"x":0.0,"y":0.005,"c":1},{"x":0.065,"y":0.045,"c":1},
{"x":0.04,"y":0.04,"c":3},{"x":0.055,"y":0.045,"c":3},{"x":0.02,"y":0.03,"c":3},{"x":0.06,"y":0.07,"c":3},
{"x":-0.002,"y":-0.023,"c":4},{"x":0.01,"y":0.02,"c":4},
{"x":0.05,"y":0.04,"c":6},
{"x":0.0,"y":-0.005,"c":5},{"x":0.005,"y":0.002,"c":5},{"x":0.01,"y":0.008,"c":5},{"x":0.002,"y":0.0,"c":5},{"x":0.015,"y":0.01,"c":5},{"x":0.008,"y":0.015,"c":5},{"x":0.02,"y":0.02,"c":5}
],
"f1":[
{"x":0.0,"y":0.005,"c":2},{"x":0.01,"y":0.01,"c":0},{"x":0.02,"y":0.015,"c":2},{"x":0.025,"y":0.01,"c":1},{"x":0.03,"y":0.02,"c":0},{"x":0.035,"y":0.01,"c":1},{"x":0.04,"y":0.025,"c":2},{"x":0.045,"y":0.015,"c":0},{"x":0.05,"y":0.02,"c":1},{"x":-0.01,"y":-0.005,"c":2},{"x":-0.005,"y":0.01,"c":2},{"x":0.015,"y":0.0,"c":1},{"x":0.06,"y":0.03,"c":0},{"x":0.065,"y":0.02,"c":1},{"x":0.055,"y":0.04,"c":2},{"x":0.07,"y":0.05,"c":4},{"x":0.035,"y":0.03,"c":3},{"x":0.045,"y":0.035,"c":0},
{"x":0.12,"y":0.115,"c":0},{"x":0.06,"y":0.055,"c":0},{"x":0.07,"y":0.04,"c":0},{"x":0.08,"y":0.03,"c":0},{"x":0.1,"y":0.025,"c":0},{"x":-0.02,"y":0.06,"c":0},{"x":0.04,"y":0.02,"c":0},{"x":0.05,"y":0.03,"c":0},{"x":0.03,"y":0.025,"c":0},
{"x":0.04,"y":0.005,"c":1},{"x":0.05,"y":0.0,"c":1},{"x":0.07,"y":-0.013,"c":1},{"x":0.1,"y":0.015,"c":1},{"x":0.03,"y":0.0,"c":1},{"x":0.02,"y":-0.002,"c":1},{"x":0.055,"y":0.01,"c":1},
{"x":0.0,"y":0.02,"c":2},{"x":0.02,"y":0.025,"c":2},{"x":0.06,"y":0.057,"c":2},{"x":0.075,"y":0.045,"c":2},{"x":0.085,"y":0.025,"c":2},{"x":-0.02,"y":0.005,"c":2},{"x":-0.015,"y":-0.008,"c":2},{"x":0.01,"y":0.018,"c":2},{"x":-0.03,"y":-0.005,"c":2},
{"x":0.06,"y":0.07,"c":4},{"x":0.1,"y":0.085,"c":4},{"x":0.12,"y":0.082,"c":4},{"x":0.124,"y":0.105,"c":4},{"x":-0.045,"y":-0.015,"c":4},{"x":-0.02,"y":0.03,"c":4},{"x":0.065,"y":-0.025,"c":4},{"x":0.075,"y":0.06,"c":4},
{"x":0.08,"y":0.045,"c":3},{"x":0.09,"y":0.035,"c":3},{"x":0.03,"y":0.015,"c":3},{"x":-0.01,"y":0.0,"c":3},
{"x":0.025,"y":0.005,"c":6},
{"x":0.0,"y":-0.002,"c":5},{"x":0.005,"y":0.002,"c":5},{"x":0.01,"y":0.005,"c":5},{"x":-0.005,"y":-0.005,"c":5},{"x":0.015,"y":0.01,"c":5},{"x":0.02,"y":0.012,"c":5},{"x":0.008,"y":0.0,"c":5}
],
"f2":[
{"x":0.0,"y":0.005,"c":2},{"x":0.01,"y":0.01,"c":0},{"x":0.02,"y":0.015,"c":1},{"x":0.025,"y":0.02,"c":0},{"x":0.03,"y":0.025,"c":2},{"x":0.035,"y":0.02,"c":1},{"x":0.04,"y":0.035,"c":0},{"x":0.045,"y":0.03,"c":1},{"x":0.05,"y":0.03,"c":2},{"x":0.055,"y":0.04,"c":0},{"x":-0.015,"y":-0.01,"c":2},{"x":-0.01,"y":0.0,"c":1},{"x":0.015,"y":0.0,"c":2},{"x":0.065,"y":0.045,"c":0},{"x":0.07,"y":0.04,"c":1},{"x":0.075,"y":0.05,"c":3},{"x":0.03,"y":0.005,"c":0},{"x":0.05,"y":0.015,"c":6},
{"x":0.09,"y":0.07,"c":0},{"x":0.1,"y":0.065,"c":0},{"x":0.12,"y":0.03,"c":0},{"x":0.11,"y":0.025,"c":0},{"x":0.124,"y":0.035,"c":0},{"x":0.1,"y":0.01,"c":0},{"x":0.08,"y":0.055,"c":0},{"x":0.09,"y":0.045,"c":0},{"x":0.04,"y":0.03,"c":0},{"x":0.06,"y":0.03,"c":0},
{"x":0.06,"y":0.06,"c":1},{"x":0.07,"y":0.06,"c":1},{"x":0.085,"y":0.065,"c":1},{"x":0.05,"y":0.045,"c":1},{"x":0.04,"y":0.02,"c":1},{"x":-0.025,"y":-0.012,"c":1},{"x":0.03,"y":0.01,"c":1},
{"x":-0.015,"y":0.07,"c":3},{"x":0.04,"y":0.05,"c":3},{"x":0.05,"y":0.05,"c":3},{"x":0.06,"y":0.04,"c":3},{"x":0.08,"y":0.08,"c":3},{"x":0.085,"y":0.083,"c":3},
{"x":0.02,"y":0.025,"c":2},{"x":-0.02,"y":-0.005,"c":2},{"x":0.0,"y":0.015,"c":2},{"x":0.03,"y":0.015,"c":2},{"x":-0.025,"y":-0.015,"c":2},{"x":0.01,"y":0.012,"c":2},{"x":0.045,"y":0.025,"c":2},
{"x":0.06,"y":0.025,"c":6},
{"x":0.0,"y":0.0,"c":5},{"x":0.005,"y":0.003,"c":5},{"x":0.01,"y":0.005,"c":5},{"x":-0.005,"y":-0.003,"c":5},{"x":0.015,"y":0.008,"c":5},{"x":-0.01,"y":-0.006,"c":5},{"x":0.02,"y":0.01,"c":5}
],
"f3":[
{"x":0.0,"y":0.005,"c":0},{"x":0.01,"y":0.01,"c":1},{"x":0.015,"y":0.005,"c":2},{"x":0.02,"y":0.015,"c":0},{"x":0.025,"y":0.01,"c":1},{"x":0.03,"y":0.02,"c":0},{"x":0.035,"y":0.01,"c":2},{"x":0.04,"y":0.015,"c":1},{"x":0.045,"y":0.025,"c":0},{"x":0.05,"y":0.015,"c":1},{"x":0.055,"y":0.03,"c":2},{"x":0.06,"y":0.025,"c":0},{"x":-0.005,"y":0.0,"c":3},{"x":0.065,"y":0.04,"c":1},{"x":0.07,"y":0.035,"c":2},{"x":0.075,"y":0.03,"c":0},{"x":0.085,"y":0.045,"c":1},{"x":0.03,"y":0.03,"c":3},
{"x":0.12,"y":0.078,"c":1},{"x":0.124,"y":0.05,"c":1},{"x":0.124,"y":0.02,"c":1},{"x":0.09,"y":0.01,"c":1},{"x":0.06,"y":-0.005,"c":1},{"x":0.04,"y":0.0,"c":1},{"x":0.03,"y":0.005,"c":1},{"x":0.02,"y":-0.003,"c":1},
{"x":0.07,"y":0.06,"c":0},{"x":0.08,"y":0.05,"c":0},{"x":0.09,"y":0.04,"c":0},{"x":0.1,"y":0.04,"c":0},{"x":0.06,"y":0.035,"c":0},{"x":0.05,"y":0.045,"c":0},{"x":0.04,"y":0.03,"c":0},{"x":0.035,"y":0.02,"c":0},
{"x":0.1,"y":0.085,"c":2},{"x":0.08,"y":0.065,"c":2},{"x":0.075,"y":0.055,"c":2},{"x":0.05,"y":0.025,"c":2},{"x":0.045,"y":0.01,"c":2},{"x":0.06,"y":0.02,"c":2},
{"x":0.05,"y":0.08,"c":4},{"x":0.08,"y":0.078,"c":4},{"x":-0.01,"y":0.0,"c":4},
{"x":0.07,"y":0.02,"c":3},{"x":0.03,"y":0.015,"c":3},{"x":0.04,"y":-0.005,"c":3},{"x":0.06,"y":0.035,"c":3},{"x":-0.015,"y":-0.01,"c":3},
{"x":0.02,"y":0.022,"c":6},
{"x":0.0,"y":0.0,"c":5},{"x":0.005,"y":0.003,"c":5},{"x":0.01,"y":0.006,"c":5},{"x":-0.005,"y":-0.004,"c":5},{"x":0.015,"y":0.01,"c":5},{"x":0.02,"y":0.012,"c":5},{"x":0.05,"y":0.05,"c":5},{"x":0.025,"y":0.018,"c":5}
],
"f4":[
{"x":0.0,"y":0.005,"c":0},{"x":0.01,"y":0.01,"c":1},{"x":0.015,"y":0.005,"c":2},{"x":0.02,"y":0.015,"c":1},{"x":0.025,"y":0.01,"c":0},{"x":0.03,"y":0.015,"c":1},{"x":0.035,"y":0.025,"c":2},{"x":0.04,"y":0.02,"c":0},{"x":0.045,"y":0.035,"c":1},{"x":0.05,"y":0.03,"c":0},{"x":0.055,"y":0.025,"c":2},{"x":0.06,"y":0.045,"c":1},{"x":-0.005,"y":-0.005,"c":2},{"x":0.065,"y":0.03,"c":0},{"x":0.07,"y":0.045,"c":2},{"x":0.075,"y":0.035,"c":1},{"x":0.085,"y":0.055,"c":0},{"x":0.045,"y":0.015,"c":3},
{"x":0.05,"y":0.06,"c":2},{"x":0.06,"y":0.065,"c":2},{"x":0.08,"y":0.07,"c":2},{"x":0.12,"y":0.08,"c":2},{"x":0.124,"y":0.108,"c":2},{"x":0.045,"y":0.03,"c":2},{"x":0.07,"y":0.01,"c":2},{"x":0.09,"y":0.0,"c":2},{"x":-0.025,"y":-0.018,"c":2},{"x":0.03,"y":0.02,"c":2},
{"x":0.06,"y":0.066,"c":1},{"x":0.07,"y":0.06,"c":1},{"x":0.08,"y":0.075,"c":1},{"x":0.124,"y":0.035,"c":1},{"x":0.11,"y":0.033,"c":1},{"x":0.05,"y":0.02,"c":1},{"x":0.04,"y":0.01,"c":1},{"x":0.06,"y":0.0,"c":1},{"x":0.02,"y":0.0,"c":1},
{"x":0.08,"y":0.045,"c":0},{"x":0.09,"y":0.03,"c":0},{"x":0.1,"y":0.025,"c":0},{"x":0.124,"y":0.072,"c":0},{"x":0.075,"y":0.02,"c":0},{"x":0.065,"y":0.04,"c":0},
{"x":0.04,"y":0.045,"c":3},{"x":0.03,"y":0.03,"c":3},{"x":0.05,"y":0.04,"c":3},{"x":-0.01,"y":-0.005,"c":3},
{"x":0.065,"y":0.07,"c":6},{"x":0.07,"y":0.077,"c":6},
{"x":-0.02,"y":0.0,"c":4},
{"x":0.0,"y":0.0,"c":5},{"x":0.005,"y":0.003,"c":5},{"x":0.01,"y":0.005,"c":5},{"x":0.015,"y":0.008,"c":5},{"x":-0.005,"y":-0.003,"c":5},{"x":0.02,"y":0.01,"c":5},{"x":0.025,"y":0.015,"c":5}
],
"g1":[
{"x":0.0,"y":0.0,"c":1},{"x":0.01,"y":0.0,"c":0},{"x":0.015,"y":0.012,"c":2},{"x":0.02,"y":0.015,"c":0},{"x":0.025,"y":0.02,"c":1},{"x":0.03,"y":0.03,"c":0},{"x":0.035,"y":0.03,"c":2},{"x":0.04,"y":0.035,"c":1},{"x":0.045,"y":0.03,"c":0},{"x":0.05,"y":0.045,"c":1},{"x":0.055,"y":0.04,"c":2},{"x":0.06,"y":0.055,"c":0},{"x":-0.01,"y":-0.02,"c":2},{"x":-0.005,"y":-0.015,"c":2},{"x":0.065,"y":0.045,"c":1},{"x":0.07,"y":0.065,"c":0},{"x":0.075,"y":0.06,"c":2},{"x":0.085,"y":0.07,"c":0},
{"x":-0.045,"y":0.015,"c":4},{"x":-0.015,"y":0.03,"c":4},{"x":0.0,"y":0.04,"c":4},{"x":0.04,"y":0.075,"c":4},{"x":0.1,"y":0.09,"c":4},{"x":0.12,"y":0.12,"c":4},{"x":0.124,"y":0.125,"c":4},{"x":-0.03,"y":-0.005,"c":4},
{"x":0.08,"y":0.09,"c":0},{"x":0.11,"y":0.09,"c":0},{"x":0.06,"y":0.05,"c":0},{"x":0.07,"y":0.04,"c":0},{"x":0.09,"y":0.05,"c":0},{"x":0.035,"y":0.02,"c":0},{"x":0.05,"y":0.035,"c":0},{"x":0.065,"y":0.055,"c":0},
{"x":0.09,"y":0.1,"c":1},{"x":0.06,"y":0.07,"c":1},{"x":0.03,"y":0.02,"c":1},{"x":0.02,"y":0.0,"c":1},{"x":0.04,"y":0.02,"c":1},{"x":0.045,"y":0.04,"c":1},
{"x":-0.02,"y":-0.02,"c":2},{"x":-0.01,"y":-0.015,"c":2},{"x":0.0,"y":-0.025,"c":2},{"x":0.01,"y":-0.02,"c":2},{"x":0.02,"y":-0.015,"c":2},{"x":0.03,"y":0.005,"c":2},{"x":-0.02,"y":0.03,"c":2},{"x":0.06,"y":0.0,"c":2},{"x":0.08,"y":0.03,"c":2},{"x":0.05,"y":0.025,"c":2},{"x":-0.02,"y":-0.03,"c":2},
{"x":0.075,"y":0.075,"c":3},{"x":0.05,"y":0.06,"c":3},{"x":0.02,"y":0.02,"c":3},
{"x":0.0,"y":-0.003,"c":5},{"x":0.005,"y":0.0,"c":5},{"x":0.01,"y":0.005,"c":5},{"x":-0.005,"y":-0.008,"c":5},{"x":0.015,"y":0.01,"c":5},{"x":-0.01,"y":-0.01,"c":5},{"x":0.02,"y":0.012,"c":5}
],
"g2":[
{"x":0.0,"y":0.002,"c":2},{"x":0.005,"y":0.008,"c":0},{"x":0.01,"y":0.012,"c":1},{"x":0.015,"y":0.015,"c":2},{"x":0.02,"y":0.022,"c":0},{"x":0.025,"y":0.025,"c":1},{"x":0.03,"y":0.028,"c":2},{"x":0.035,"y":0.03,"c":0},{"x":0.04,"y":0.03,"c":1},{"x":0.045,"y":0.04,"c":2},{"x":0.05,"y":0.04,"c":0},{"x":0.055,"y":0.05,"c":1},{"x":-0.01,"y":-0.012,"c":2},{"x":-0.015,"y":-0.018,"c":0},{"x":0.06,"y":0.06,"c":3},{"x":0.065,"y":0.055,"c":0},{"x":0.07,"y":0.07,"c":2},{"x":0.085,"y":0.085,"c":0},
{"x":-0.02,"y":-0.02,"c":2},{"x":-0.015,"y":-0.01,"c":2},{"x":-0.025,"y":-0.025,"c":2},{"x":0.01,"y":0.025,"c":2},{"x":0.02,"y":0.03,"c":2},{"x":0.03,"y":0.04,"c":2},{"x":0.035,"y":0.045,"c":2},{"x":0.06,"y":0.055,"c":2},{"x":0.065,"y":0.06,"c":2},{"x":0.08,"y":0.08,"c":2},{"x":-0.01,"y":-0.005,"c":2},
{"x":0.12,"y":0.12,"c":0},{"x":0.1,"y":0.095,"c":0},{"x":0.11,"y":0.1,"c":0},{"x":0.07,"y":0.065,"c":0},{"x":0.09,"y":0.085,"c":0},{"x":0.04,"y":0.035,"c":0},{"x":0.05,"y":0.045,"c":0},{"x":0.124,"y":0.125,"c":0},
{"x":0.06,"y":0.035,"c":1},{"x":0.065,"y":0.035,"c":1},{"x":0.08,"y":0.05,"c":1},{"x":0.1,"y":0.075,"c":1},{"x":0.045,"y":0.03,"c":1},{"x":0.03,"y":0.02,"c":1},{"x":-0.025,"y":-0.028,"c":1},
{"x":0.075,"y":0.07,"c":3},{"x":0.08,"y":0.065,"c":3},{"x":0.1,"y":0.085,"c":3},{"x":0.05,"y":0.05,"c":3},{"x":0.04,"y":0.04,"c":3},
{"x":-0.02,"y":-0.025,"c":4},{"x":-0.01,"y":-0.01,"c":4},
{"x":0.035,"y":0.035,"c":6},
{"x":0.0,"y":-0.002,"c":5},{"x":0.005,"y":0.003,"c":5},{"x":0.01,"y":0.007,"c":5},{"x":-0.005,"y":-0.006,"c":5},{"x":0.015,"y":0.012,"c":5},{"x":0.02,"y":0.016,"c":5},{"x":0.05,"y":0.02,"c":5}
],
"g3":[
{"x":0.0,"y":0.0,"c":1},{"x":0.005,"y":0.005,"c":0},{"x":0.01,"y":0.01,"c":2},{"x":0.015,"y":0.012,"c":1},{"x":0.02,"y":0.02,"c":0},{"x":0.025,"y":0.025,"c":2},{"x":0.03,"y":0.028,"c":1},{"x":0.035,"y":0.03,"c":0},{"x":0.04,"y":0.04,"c":2},{"x":0.045,"y":0.042,"c":1},{"x":0.05,"y":0.045,"c":0},{"x":0.055,"y":0.05,"c":2},{"x":-0.01,"y":-0.012,"c":3},{"x":-0.015,"y":-0.015,"c":0},{"x":0.06,"y":0.055,"c":1},{"x":0.065,"y":0.06,"c":2},{"x":0.075,"y":0.065,"c":0},{"x":0.085,"y":0.08,"c":1},
{"x":0.12,"y":0.12,"c":1},{"x":0.115,"y":0.105,"c":1},{"x":0.124,"y":0.11,"c":1},{"x":0.1,"y":0.1,"c":1},{"x":0.06,"y":0.05,"c":1},{"x":0.07,"y":0.06,"c":1},{"x":0.08,"y":0.07,"c":1},{"x":0.04,"y":0.035,"c":1},{"x":0.025,"y":0.02,"c":1},
{"x":0.09,"y":0.09,"c":0},{"x":0.08,"y":0.08,"c":0},{"x":0.05,"y":0.05,"c":0},{"x":0.06,"y":0.045,"c":0},{"x":0.07,"y":0.055,"c":0},{"x":0.035,"y":0.04,"c":0},{"x":0.045,"y":0.035,"c":0},
{"x":0.1,"y":0.08,"c":2},{"x":0.095,"y":0.09,"c":2},{"x":0.075,"y":0.075,"c":2},{"x":0.07,"y":0.05,"c":2},{"x":0.055,"y":0.04,"c":2},{"x":0.03,"y":0.025,"c":2},{"x":0.01,"y":0.0,"c":2},
{"x":0.07,"y":0.085,"c":3},{"x":-0.02,"y":-0.02,"c":3},{"x":0.03,"y":0.03,"c":3},{"x":0.05,"y":0.06,"c":3},
{"x":-0.01,"y":0.0,"c":4},{"x":0.02,"y":0.025,"c":4},
{"x":-0.025,"y":-0.005,"c":6},
{"x":0.0,"y":-0.002,"c":5},{"x":0.005,"y":0.002,"c":5},{"x":0.01,"y":0.006,"c":5},{"x":-0.005,"y":-0.006,"c":5},{"x":0.015,"y":0.01,"c":5},{"x":-0.01,"y":-0.008,"c":5},{"x":0.02,"y":0.015,"c":5},{"x":0.045,"y":0.015,"c":5}
],
"g4":[
{"x":0.0,"y":0.002,"c":1},{"x":0.005,"y":0.006,"c":2},{"x":0.01,"y":0.01,"c":0},{"x":0.015,"y":0.015,"c":1},{"x":0.02,"y":0.018,"c":2},{"x":0.025,"y":0.022,"c":0},{"x":0.03,"y":0.028,"c":1},{"x":0.035,"y":0.03,"c":2},{"x":0.04,"y":0.035,"c":0},{"x":0.045,"y":0.04,"c":1},{"x":0.05,"y":0.045,"c":2},{"x":0.055,"y":0.05,"c":0},{"x":-0.01,"y":-0.01,"c":2},{"x":-0.015,"y":-0.012,"c":3},{"x":0.06,"y":0.05,"c":1},{"x":0.065,"y":0.06,"c":2},{"x":0.07,"y":0.065,"c":0},{"x":0.08,"y":0.07,"c":1},
{"x":0.12,"y":0.11,"c":2},{"x":0.124,"y":0.108,"c":2},{"x":0.124,"y":0.125,"c":2},{"x":0.1,"y":0.095,"c":2},{"x":0.09,"y":0.09,"c":2},{"x":0.08,"y":0.075,"c":2},{"x":0.06,"y":0.055,"c":2},{"x":0.07,"y":0.05,"c":2},{"x":-0.025,"y":-0.015,"c":2},{"x":0.03,"y":0.03,"c":2},
{"x":0.08,"y":0.08,"c":0},{"x":0.075,"y":0.065,"c":0},{"x":0.06,"y":0.06,"c":0},{"x":0.05,"y":0.045,"c":0},{"x":0.09,"y":0.07,"c":0},{"x":0.04,"y":0.04,"c":0},
{"x":0.06,"y":0.05,"c":1},{"x":0.065,"y":0.048,"c":1},{"x":0.04,"y":0.03,"c":1},{"x":0.03,"y":0.025,"c":1},{"x":0.02,"y":0.02,"c":1},{"x":0.05,"y":0.035,"c":1},
{"x":0.04,"y":0.045,"c":3},{"x":0.03,"y":0.035,"c":3},{"x":0.055,"y":0.05,"c":3},{"x":0.0,"y":-0.01,"c":3},
{"x":-0.01,"y":0.0,"c":4},{"x":0.01,"y":0.01,"c":4},
{"x":0.05,"y":0.03,"c":6},{"x":0.035,"y":0.02,"c":6},
{"x":0.0,"y":-0.002,"c":5},{"x":0.005,"y":0.003,"c":5},{"x":0.01,"y":0.007,"c":5},{"x":-0.005,"y":-0.005,"c":5},{"x":0.015,"y":0.012,"c":5},{"x":0.02,"y":0.016,"c":5},{"x":0.1,"y":0.085,"c":5},{"x":0.045,"y":0.015,"c":5}
]
},
"vconcat":[
{"columns":5,"spacing":{"row":21,"column":0},"bounds":"flush","align":"each","concat":[
{"width":409,"height":212,"data":{"name":"a1"},"layer":[
 {"mark":{"type":"area","color":"#9fd0e6","opacity":0.8},"encoding":{
  "x":{"field":"x","type":"quantitative","scale":{"domain":[-2.45,51.37],"nice":false,"zero":false},"axis":{"values":[0,10,20,30,40,50],"format":"d","title":null,"tickSize":3,"labelPadding":2,"labelFontSize":12.5,"labelOverlap":false}},
  "y":{"field":"lo","type":"quantitative","scale":{"domain":[-0.0153,1.05],"nice":false,"zero":false},"axis":{"values":[0,0.2,0.4,0.6,0.8,1],"format":".1f","title":"Folyosó dekódolási hiba","titleFontSize":32,"titleX":-40,"titleY":240,"titleAngle":270,"titleAlign":"center","titleBaseline":"alphabetic","tickSize":3,"labelPadding":1,"labelFontSize":12.5,"labelOverlap":false}},
  "y2":{"field":"hi"}}},
 {"transform":[{"fold":["g1","g2","g3","g4","g5"],"as":["s","v"]}],"mark":{"type":"line","color":"#777","strokeWidth":1,"opacity":0.5},"encoding":{"x":{"field":"x","type":"quantitative"},"y":{"field":"v","type":"quantitative"},"detail":{"field":"s","type":"nominal"}}},
 {"mark":{"type":"line","color":"#5ab4d8","strokeWidth":3},"encoding":{"x":{"field":"x","type":"quantitative"},"y":{"field":"m","type":"quantitative"}}},
 {"data":{"values":[{}]},"mark":{"type":"rule","color":"#444","strokeDash":[5,3],"strokeWidth":1.2},"encoding":{"y":{"datum":0.5}}},
 {"data":{"values":[{}]},"mark":{"type":"text","fontSize":43,"align":"left","baseline":"alphabetic"},"encoding":{"x":{"datum":-0.61},"y":{"datum":1.01},"text":{"value":"A"}}},
 {"data":{"values":[{}]},"mark":{"type":"text","fontSize":30,"align":"center","baseline":"alphabetic"},"encoding":{"x":{"datum":27.0},"y":{"datum":1.035},"text":{"value":"Alacsony"}}}
]},
{"width":11,"height":229,"data":{"values":[]},"mark":"point"},
{"width":408,"height":212,"data":{"name":"a2"},"layer":[
 {"mark":{"type":"area","color":"#3d6d9e","opacity":0.68},"encoding":{
  "x":{"field":"x","type":"quantitative","scale":{"domain":[-2.45,51.24],"nice":false,"zero":false},"axis":{"values":[0,10,20,30,40,50],"format":"d","title":null,"tickSize":3,"labelPadding":2,"labelFontSize":12.5,"labelOverlap":false}},
  "y":{"field":"lo","type":"quantitative","scale":{"domain":[-0.0153,1.05],"nice":false,"zero":false},"axis":null},
  "y2":{"field":"hi"}}},
 {"transform":[{"fold":["g1","g2","g3","g4","g5"],"as":["s","v"]}],"mark":{"type":"line","color":"#777","strokeWidth":1,"opacity":0.5},"encoding":{"x":{"field":"x","type":"quantitative"},"y":{"field":"v","type":"quantitative"},"detail":{"field":"s","type":"nominal"}}},
 {"mark":{"type":"line","color":"#4176ab","strokeWidth":3},"encoding":{"x":{"field":"x","type":"quantitative"},"y":{"field":"m","type":"quantitative"}}},
 {"mark":{"type":"line","color":"#4a8a1f","strokeWidth":2.5},"encoding":{"x":{"field":"x","type":"quantitative"},"y":{"field":"n","type":"quantitative"}}},
 {"data":{"values":[{}]},"mark":{"type":"rule","color":"#444","strokeDash":[5,3],"strokeWidth":1.2},"encoding":{"y":{"datum":0.5}}},
 {"data":{"values":[{}]},"mark":{"type":"text","fontSize":30,"align":"center","baseline":"alphabetic"},"encoding":{"x":{"datum":24.9},"y":{"datum":1.035},"text":{"value":"Magas"}}},
 {"data":{"values":[{}]},"mark":{"type":"text","fontSize":19,"align":"center","baseline":"alphabetic","color":"#5b8dc0"},"encoding":{"x":{"datum":40.6},"y":{"datum":0.542},"text":{"value":"viselkedés"}}},
 {"data":{"values":[{}]},"mark":{"type":"text","fontSize":19,"align":"center","baseline":"alphabetic","color":"#4a8a1f"},"encoding":{"x":{"datum":9.9},"y":{"datum":0.161},"text":{"value":"neurális"}}}
]},
{"width":138,"height":1,"data":{"values":[]},"mark":"point"},
{"width":110,"height":222,"data":{"name":"b"},"layer":[
 {"mark":{"type":"area","color":"#6b9f4d","opacity":0.75},"encoding":{
  "x":{"field":"x","type":"quantitative","scale":{"domain":[-1,1],"nice":false,"zero":false},"axis":{"values":[-1,-0.6667,-0.3333,0,0.3333,0.6667,1],"labelExpr":"indexof([-1,0,1], datum.value) >= 0 ? format(datum.value, 'd') : ''","title":"Eltolás (s)","titleFont":"DejaVu Sans","titleFontSize":17,"titleX":57,"titleY":40,"titleAlign":"center","titleBaseline":"alphabetic","tickSize":4,"labelPadding":5,"labelFontSize":15,"labelOverlap":false}},
  "y":{"field":"lo","type":"quantitative","scale":{"domain":[-0.217,0.659],"nice":false,"zero":false},"axis":{"values":[-0.2,-0.1,0,0.1,0.2,0.3,0.4],"labelExpr":"indexof([-0.1,0.1,0.3], datum.value) >= 0 ? '' : format(datum.value, '.1f')","domain":false,"title":"Korreláció","titleFont":"DejaVu Sans","titleFontSize":17,"titleX":-58,"titleY":129,"titleAngle":270,"titleAlign":"center","titleBaseline":"alphabetic","tickSize":4,"labelPadding":10,"labelFontSize":15,"labelOverlap":false}},
  "y2":{"field":"hi"}}},
 {"transform":[{"fold":["g1","g2","g3","g4","g5","g6"],"as":["s","v"]}],"mark":{"type":"line","color":"#888","strokeWidth":1,"opacity":0.55},"encoding":{"x":{"field":"x","type":"quantitative"},"y":{"field":"v","type":"quantitative"},"detail":{"field":"s","type":"nominal"}}},
 {"mark":{"type":"line","color":"#3a7d17","strokeWidth":2.5},"encoding":{"x":{"field":"x","type":"quantitative"},"y":{"field":"m","type":"quantitative"}}},
 {"data":{"values":[{}]},"mark":{"type":"rule","color":"#000","strokeDash":[3,2],"strokeWidth":1},"encoding":{"x":{"datum":0},"y":{"datum":-0.185},"y2":{"datum":0.425}}},
 {"data":{"values":[{}]},"mark":{"type":"rule","color":"#999","strokeWidth":1.3},"encoding":{"x":{"datum":-1},"y":{"datum":-0.217},"y2":{"datum":0.454}}},
 {"data":{"values":[{}]},"mark":{"type":"text","fontSize":40,"align":"left","baseline":"alphabetic"},"encoding":{"x":{"datum":-2.145},"y":{"datum":0.549},"text":{"value":"B"}}}
]},
{"width":409,"height":211,"data":{"name":"c1"},"layer":[
 {"mark":{"type":"area","color":"#9fd0e6","opacity":0.8},"encoding":{
  "x":{"field":"x","type":"quantitative","scale":{"domain":[-2.45,51.37],"nice":false,"zero":false},"axis":{"values":[0,10,20,30,40,50],"format":"d","title":"Pozíció","titleFontSize":29,"titleX":431,"titleY":41,"titleAlign":"center","titleBaseline":"alphabetic","tickSize":3,"labelPadding":2,"labelFontSize":12.5,"labelOverlap":false}},
  "y":{"field":"lo","type":"quantitative","scale":{"domain":[-0.034,0.762],"nice":false,"zero":false},"axis":{"values":[0,0.2,0.4,0.6],"format":".1f","title":null,"tickSize":3,"labelPadding":1,"labelFontSize":12.5,"labelOverlap":false}},
  "y2":{"field":"hi"}}},
 {"transform":[{"fold":["g1","g2","g3","g4","g5"],"as":["s","v"]}],"mark":{"type":"line","color":"#777","strokeWidth":1,"opacity":0.5},"encoding":{"x":{"field":"x","type":"quantitative"},"y":{"field":"v","type":"quantitative"},"detail":{"field":"s","type":"nominal"}}},
 {"mark":{"type":"line","color":"#5ab4d8","strokeWidth":3},"encoding":{"x":{"field":"x","type":"quantitative"},"y":{"field":"m","type":"quantitative"}}},
 {"data":{"values":[{}]},"mark":{"type":"rule","color":"#444","strokeDash":[5,3],"strokeWidth":1.2},"encoding":{"y":{"datum":0.5}}},
 {"data":{"values":[{}]},"mark":{"type":"text","fontSize":42,"align":"left","baseline":"alphabetic"},"encoding":{"x":{"datum":-0.74},"y":{"datum":0.71},"text":{"value":"C"}}}
]},
{"width":11,"height":245,"data":{"values":[]},"mark":"point"},
{"width":408,"height":211,"data":{"name":"c2"},"layer":[
 {"mark":{"type":"area","color":"#3d6d9e","opacity":0.68},"encoding":{
  "x":{"field":"x","type":"quantitative","scale":{"domain":[-2.45,51.24],"nice":false,"zero":false},"axis":{"values":[0,10,20,30,40,50],"format":"d","title":null,"tickSize":3,"labelPadding":2,"labelFontSize":12.5,"labelOverlap":false}},
  "y":{"field":"lo","type":"quantitative","scale":{"domain":[-0.034,0.762],"nice":false,"zero":false},"axis":null},
  "y2":{"field":"hi"}}},
 {"transform":[{"fold":["g1","g2","g3","g4","g5"],"as":["s","v"]}],"mark":{"type":"line","color":"#777","strokeWidth":1,"opacity":0.5},"encoding":{"x":{"field":"x","type":"quantitative"},"y":{"field":"v","type":"quantitative"},"detail":{"field":"s","type":"nominal"}}},
 {"mark":{"type":"line","color":"#4176ab","strokeWidth":3},"encoding":{"x":{"field":"x","type":"quantitative"},"y":{"field":"m","type":"quantitative"}}},
 {"mark":{"type":"line","color":"#800080","strokeWidth":2.5},"encoding":{"x":{"field":"x","type":"quantitative"},"y":{"field":"n","type":"quantitative"}}},
 {"data":{"values":[{}]},"mark":{"type":"rule","color":"#444","strokeDash":[5,3],"strokeWidth":1.2},"encoding":{"y":{"datum":0.5}}},
 {"data":{"values":[{}]},"mark":{"type":"text","fontSize":19,"align":"center","baseline":"alphabetic","color":"#5b8dc0"},"encoding":{"x":{"datum":42.0},"y":{"datum":0.43},"text":{"value":"viselkedés"}}},
 {"data":{"values":[{}]},"mark":{"type":"text","fontSize":19,"align":"center","baseline":"alphabetic","color":"#800080"},"encoding":{"x":{"datum":10.3},"y":{"datum":0.14},"text":{"value":"neurális"}}}
]},
{"width":138,"height":1,"data":{"values":[]},"mark":"point"},
{"width":110,"height":211,"data":{"name":"d"},"layer":[
 {"mark":{"type":"area","color":"#a04cc0","opacity":0.72},"encoding":{
  "x":{"field":"x","type":"quantitative","scale":{"domain":[-1,1],"nice":false,"zero":false},"axis":{"values":[-1,-0.6667,-0.3333,0,0.3333,0.6667,1],"labelExpr":"indexof([-1,0,1], datum.value) >= 0 ? format(datum.value, 'd') : ''","offset":5,"title":"Eltolás (s)","titleFont":"DejaVu Sans","titleFontSize":17,"titleX":58,"titleY":30,"titleAlign":"center","titleBaseline":"alphabetic","tickSize":4,"labelPadding":1,"labelFontSize":15,"labelOverlap":false}},
  "y":{"field":"lo","type":"quantitative","scale":{"domain":[-0.086,0.668],"nice":false,"zero":false},"axis":{"values":[0,0.1,0.2,0.3,0.4],"labelExpr":"indexof([0.1,0.3], datum.value) >= 0 ? '' : format(datum.value, '.1f')","offset":5,"domain":false,"title":"Korreláció","titleFont":"DejaVu Sans","titleFontSize":17,"titleX":-53,"titleY":135,"titleAngle":270,"titleAlign":"center","titleBaseline":"alphabetic","tickSize":4,"labelPadding":5,"labelFontSize":15,"labelOverlap":false}},
  "y2":{"field":"hi"}}},
 {"transform":[{"fold":["g1","g2","g3","g4","g5","g6"],"as":["s","v"]}],"mark":{"type":"line","color":"#888","strokeWidth":1,"opacity":0.55},"encoding":{"x":{"field":"x","type":"quantitative"},"y":{"field":"v","type":"quantitative"},"detail":{"field":"s","type":"nominal"}}},
 {"mark":{"type":"line","color":"#7b0c8a","strokeWidth":2.5},"encoding":{"x":{"field":"x","type":"quantitative"},"y":{"field":"m","type":"quantitative"}}},
 {"data":{"values":[{}]},"mark":{"type":"rule","color":"#000","strokeDash":[3,2],"strokeWidth":1},"encoding":{"x":{"datum":0},"y":{"datum":-0.058},"y2":{"datum":0.489}}},
 {"data":{"values":[{}]},"mark":{"type":"rule","color":"#999","strokeWidth":1.3,"xOffset":-5},"encoding":{"x":{"datum":-1},"y":{"datum":-0.086},"y2":{"datum":0.489}}},
 {"data":{"values":[{}]},"mark":{"type":"text","fontSize":42,"align":"left","baseline":"alphabetic"},"encoding":{"x":{"datum":-2.127},"y":{"datum":0.561},"text":{"value":"D"}}}
]}
]},
{"columns":12,"spacing":{"row":21,"column":0},"bounds":"flush","align":"each","concat":[
{"width":51,"height":1,"data":{"values":[]},"mark":"point"},
{"width":116,"height":111,"view":{"stroke":"#a0a0a0","strokeWidth":1.5},"layer":[
 {"data":{"name":"e1"},"mark":{"type":"point","filled":false,"size":18,"strokeWidth":0.8,"opacity":0.8},"encoding":{
  "x":{"field":"x","type":"quantitative","scale":{"domain":[-0.05,0.126],"nice":false,"zero":false},"axis":{"values":[-0.05,0,0.05,0.1],"labels":false,"domain":false,"title":null,"tickSize":2.5,"tickColor":"#777"}},
  "y":{"field":"y","type":"quantitative","scale":{"domain":[-0.05,0.13],"nice":false,"zero":false},"axis":{"values":[-0.04,-0.02,0,0.02,0.04,0.06,0.08,0.1,0.12],"labels":false,"domain":false,"tickSize":2.5,"tickColor":"#777","title":"LL növekedés (viselk.)","titleFontSize":23,"titleX":-25,"titleY":120,"titleAngle":270,"titleAlign":"center","titleBaseline":"alphabetic"}},
  "color":{"field":"c","type":"nominal","scale":{"domain":[0,1,2,3,4,5,6],"range":["#8b2be2","#2a2ae6","#e0358c","#f4a52a","#8fe08f","#3fe0e8","#9a9a9a"]},"legend":null}}},
 {"data":{"name":"yt"},"mark":{"type":"text","font":"DejaVu Sans","fontSize":5.5,"align":"right","baseline":"middle","dx":-4,"color":"#333"},"encoding":{"x":{"datum":-0.05},"y":{"field":"t","type":"quantitative"},"text":{"field":"t","type":"quantitative","format":".2f"}}},
 {"data":{"values":[{}]},"mark":{"type":"rule","color":"#000","strokeWidth":1},"encoding":{"x":{"datum":-0.05},"y":{"datum":-0.05},"x2":{"datum":0.12},"y2":{"datum":0.12}}},
 {"data":{"values":[{}]},"mark":{"type":"text","fontSize":14,"align":"right","baseline":"alphabetic","dx":-2,"dy":-2.5},"encoding":{"x":{"datum":0.126},"y":{"datum":-0.05},"text":{"value":"Alacsony 1"}}},
 {"data":{"values":[{}]},"mark":{"type":"text","fontSize":35,"align":"left","baseline":"alphabetic"},"encoding":{"x":{"datum":-0.171},"y":{"datum":0.0846},"text":{"value":"E"}}}
]},
{"width":14,"height":1,"data":{"values":[]},"mark":"point"},
{"width":116,"height":111,"view":{"stroke":"#a0a0a0","strokeWidth":1.5},"layer":[
 {"data":{"name":"e2"},"mark":{"type":"point","filled":false,"size":18,"strokeWidth":0.8,"opacity":0.8},"encoding":{
  "x":{"field":"x","type":"quantitative","scale":{"domain":[-0.05,0.126],"nice":false,"zero":false},"axis":{"values":[-0.05,0,0.05,0.1],"labels":false,"domain":false,"title":null,"tickSize":2.5,"tickColor":"#777"}},
  "y":{"field":"y","type":"quantitative","scale":{"domain":[-0.05,0.13],"nice":false,"zero":false},"axis":{"values":[-0.04,-0.02,0,0.02,0.04,0.06,0.08,0.1,0.12],"labels":false,"domain":false,"tickSize":2.5,"tickColor":"#777","title":null}},
  "color":{"field":"c","type":"nominal","scale":{"domain":[0,1,2,3,4,5,6],"range":["#8b2be2","#2a2ae6","#e0358c","#f4a52a","#8fe08f","#3fe0e8","#9a9a9a"]},"legend":null}}},
 {"data":{"values":[{}]},"mark":{"type":"rule","color":"#000","strokeWidth":1},"encoding":{"x":{"datum":-0.05},"y":{"datum":-0.05},"x2":{"datum":0.12},"y2":{"datum":0.12}}},
 {"data":{"values":[{}]},"mark":{"type":"text","fontSize":14,"align":"right","baseline":"alphabetic","dx":-2,"dy":-2.5},"encoding":{"x":{"datum":0.126},"y":{"datum":-0.05},"text":{"value":"Alacsony 2"}}}
]},
{"width":178,"height":1,"data":{"values":[]},"mark":"point"},
{"width":116,"height":111,"view":{"stroke":"#a0a0a0","strokeWidth":1.5},"layer":[
 {"data":{"name":"f1"},"mark":{"type":"point","filled":false,"size":18,"strokeWidth":0.8,"opacity":0.8},"encoding":{
  "x":{"field":"x","type":"quantitative","scale":{"domain":[-0.05,0.126],"nice":false,"zero":false},"axis":{"values":[-0.05,0,0.05,0.1],"labels":false,"domain":false,"title":null,"tickSize":2.5,"tickColor":"#777"}},
  "y":{"field":"y","type":"quantitative","scale":{"domain":[-0.05,0.13],"nice":false,"zero":false},"axis":{"values":[-0.04,-0.02,0,0.02,0.04,0.06,0.08,0.1,0.12],"labels":false,"domain":false,"tickSize":2.5,"tickColor":"#777","title":"LL növekedés (viselk.)","titleFontSize":23,"titleX":-30,"titleY":120,"titleAngle":270,"titleAlign":"center","titleBaseline":"alphabetic"}},
  "color":{"field":"c","type":"nominal","scale":{"domain":[0,1,2,3,4,5,6],"range":["#8b2be2","#2a2ae6","#e0358c","#f4a52a","#8fe08f","#3fe0e8","#9a9a9a"]},"legend":null}}},
 {"data":{"name":"yt"},"mark":{"type":"text","font":"DejaVu Sans","fontSize":5.5,"align":"right","baseline":"middle","dx":-4,"color":"#333"},"encoding":{"x":{"datum":-0.05},"y":{"field":"t","type":"quantitative"},"text":{"field":"t","type":"quantitative","format":".2f"}}},
 {"data":{"values":[{}]},"mark":{"type":"rule","color":"#000","strokeWidth":1},"encoding":{"x":{"datum":-0.05},"y":{"datum":-0.05},"x2":{"datum":0.12},"y2":{"datum":0.12}}},
 {"data":{"values":[{}]},"mark":{"type":"text","fontSize":14,"align":"right","baseline":"alphabetic","dx":-2,"dy":-2.5},"encoding":{"x":{"datum":0.126},"y":{"datum":-0.05},"text":{"value":"Alacsony 1"}}},
 {"data":{"values":[{}]},"mark":{"type":"text","fontSize":35,"align":"left","baseline":"alphabetic"},"encoding":{"x":{"datum":-0.176},"y":{"datum":0.0846},"text":{"value":"F"}}}
]},
{"width":14,"height":1,"data":{"values":[]},"mark":"point"},
{"width":116,"height":111,"view":{"stroke":"#a0a0a0","strokeWidth":1.5},"layer":[
 {"data":{"name":"f2"},"mark":{"type":"point","filled":false,"size":18,"strokeWidth":0.8,"opacity":0.8},"encoding":{
  "x":{"field":"x","type":"quantitative","scale":{"domain":[-0.05,0.126],"nice":false,"zero":false},"axis":{"values":[-0.05,0,0.05,0.1],"labels":false,"domain":false,"title":null,"tickSize":2.5,"tickColor":"#777"}},
  "y":{"field":"y","type":"quantitative","scale":{"domain":[-0.05,0.13],"nice":false,"zero":false},"axis":{"values":[-0.04,-0.02,0,0.02,0.04,0.06,0.08,0.1,0.12],"labels":false,"domain":false,"tickSize":2.5,"tickColor":"#777","title":null}},
  "color":{"field":"c","type":"nominal","scale":{"domain":[0,1,2,3,4,5,6],"range":["#8b2be2","#2a2ae6","#e0358c","#f4a52a","#8fe08f","#3fe0e8","#9a9a9a"]},"legend":null}}},
 {"data":{"values":[{}]},"mark":{"type":"rule","color":"#000","strokeWidth":1},"encoding":{"x":{"datum":-0.05},"y":{"datum":-0.05},"x2":{"datum":0.12},"y2":{"datum":0.12}}},
 {"data":{"values":[{}]},"mark":{"type":"text","fontSize":14,"align":"right","baseline":"alphabetic","dx":-2,"dy":-2.5},"encoding":{"x":{"datum":0.126},"y":{"datum":-0.05},"text":{"value":"Alacsony 2"}}}
]},
{"width":144,"height":1,"data":{"values":[]},"mark":"point"},
{"width":116,"height":111,"view":{"stroke":"#a0a0a0","strokeWidth":1.5},"layer":[
 {"data":{"name":"g1"},"mark":{"type":"point","filled":false,"size":18,"strokeWidth":0.8,"opacity":0.8},"encoding":{
  "x":{"field":"x","type":"quantitative","scale":{"domain":[-0.05,0.126],"nice":false,"zero":false},"axis":{"values":[-0.05,0,0.05,0.1],"labels":false,"domain":false,"title":null,"tickSize":2.5,"tickColor":"#777"}},
  "y":{"field":"y","type":"quantitative","scale":{"domain":[-0.05,0.13],"nice":false,"zero":false},"axis":{"values":[-0.04,-0.02,0,0.02,0.04,0.06,0.08,0.1,0.12],"labels":false,"domain":false,"tickSize":2.5,"tickColor":"#777","title":"LL növekedés (pozíció)","titleFontSize":23,"titleX":-32,"titleY":120,"titleAngle":270,"titleAlign":"center","titleBaseline":"alphabetic"}},
  "color":{"field":"c","type":"nominal","scale":{"domain":[0,1,2,3,4,5,6],"range":["#8b2be2","#2a2ae6","#e0358c","#f4a52a","#8fe08f","#3fe0e8","#9a9a9a"]},"legend":null}}},
 {"data":{"name":"yt"},"mark":{"type":"text","font":"DejaVu Sans","fontSize":5.5,"align":"right","baseline":"middle","dx":-4,"color":"#333"},"encoding":{"x":{"datum":-0.05},"y":{"field":"t","type":"quantitative"},"text":{"field":"t","type":"quantitative","format":".2f"}}},
 {"data":{"values":[{}]},"mark":{"type":"rule","color":"#000","strokeWidth":1},"encoding":{"x":{"datum":-0.05},"y":{"datum":-0.05},"x2":{"datum":0.12},"y2":{"datum":0.12}}},
 {"data":{"values":[{}]},"mark":{"type":"text","fontSize":14,"align":"right","baseline":"alphabetic","dx":-2,"dy":-2.5},"encoding":{"x":{"datum":0.126},"y":{"datum":-0.05},"text":{"value":"Alacsony 1"}}},
 {"data":{"values":[{}]},"mark":{"type":"text","fontSize":35,"align":"left","baseline":"alphabetic"},"encoding":{"x":{"datum":-0.185},"y":{"datum":0.0846},"text":{"value":"G"}}}
]},
{"width":14,"height":1,"data":{"values":[]},"mark":"point"},
{"width":116,"height":111,"view":{"stroke":"#a0a0a0","strokeWidth":1.5},"layer":[
 {"data":{"name":"g2"},"mark":{"type":"point","filled":false,"size":18,"strokeWidth":0.8,"opacity":0.8},"encoding":{
  "x":{"field":"x","type":"quantitative","scale":{"domain":[-0.05,0.126],"nice":false,"zero":false},"axis":{"values":[-0.05,0,0.05,0.1],"labels":false,"domain":false,"title":null,"tickSize":2.5,"tickColor":"#777"}},
  "y":{"field":"y","type":"quantitative","scale":{"domain":[-0.05,0.13],"nice":false,"zero":false},"axis":{"values":[-0.04,-0.02,0,0.02,0.04,0.06,0.08,0.1,0.12],"labels":false,"domain":false,"tickSize":2.5,"tickColor":"#777","title":null}},
  "color":{"field":"c","type":"nominal","scale":{"domain":[0,1,2,3,4,5,6],"range":["#8b2be2","#2a2ae6","#e0358c","#f4a52a","#8fe08f","#3fe0e8","#9a9a9a"]},"legend":null}}},
 {"data":{"values":[{}]},"mark":{"type":"rule","color":"#000","strokeWidth":1},"encoding":{"x":{"datum":-0.05},"y":{"datum":-0.05},"x2":{"datum":0.12},"y2":{"datum":0.12}}},
 {"data":{"values":[{}]},"mark":{"type":"text","fontSize":14,"align":"right","baseline":"alphabetic","dx":-2,"dy":-2.5},"encoding":{"x":{"datum":0.126},"y":{"datum":-0.05},"text":{"value":"Alacsony 2"}}}
]},
{"width":51,"height":1,"data":{"values":[]},"mark":"point"},
{"width":116,"height":111,"view":{"stroke":"#a0a0a0","strokeWidth":1.5},"layer":[
 {"data":{"name":"e3"},"mark":{"type":"point","filled":false,"size":18,"strokeWidth":0.8,"opacity":0.8},"encoding":{
  "x":{"field":"x","type":"quantitative","scale":{"domain":[-0.05,0.126],"nice":false,"zero":false},"axis":{"values":[-0.05,0,0.05,0.1],"labels":false,"domain":false,"tickSize":2.5,"tickColor":"#777","title":"LL növekedés (pozíció)","titleFontSize":23,"titleX":111,"titleY":26,"titleAlign":"center","titleBaseline":"alphabetic"}},
  "y":{"field":"y","type":"quantitative","scale":{"domain":[-0.05,0.13],"nice":false,"zero":false},"axis":{"values":[-0.04,-0.02,0,0.02,0.04,0.06,0.08,0.1,0.12],"labels":false,"domain":false,"tickSize":2.5,"tickColor":"#777","title":null}},
  "color":{"field":"c","type":"nominal","scale":{"domain":[0,1,2,3,4,5,6],"range":["#8b2be2","#2a2ae6","#e0358c","#f4a52a","#8fe08f","#3fe0e8","#9a9a9a"]},"legend":null}}},
 {"data":{"name":"yt"},"mark":{"type":"text","font":"DejaVu Sans","fontSize":5.5,"align":"right","baseline":"middle","dx":-4,"color":"#333"},"encoding":{"x":{"datum":-0.05},"y":{"field":"t","type":"quantitative"},"text":{"field":"t","type":"quantitative","format":".2f"}}},
 {"data":{"name":"xt"},"mark":{"type":"text","font":"DejaVu Sans","fontSize":5.5,"align":"center","baseline":"top","dy":2,"color":"#333"},"encoding":{"x":{"field":"t","type":"quantitative"},"y":{"datum":-0.05},"text":{"field":"t","type":"quantitative","format":".2f"}}},
 {"data":{"values":[{}]},"mark":{"type":"rule","color":"#000","strokeWidth":1},"encoding":{"x":{"datum":-0.05},"y":{"datum":-0.05},"x2":{"datum":0.12},"y2":{"datum":0.12}}},
 {"data":{"values":[{}]},"mark":{"type":"text","fontSize":14,"align":"right","baseline":"alphabetic","dx":-2,"dy":-2.5},"encoding":{"x":{"datum":0.126},"y":{"datum":-0.05},"text":{"value":"Magas 1"}}}
]},
{"width":14,"height":1,"data":{"values":[]},"mark":"point"},
{"width":116,"height":111,"view":{"stroke":"#a0a0a0","strokeWidth":1.5},"layer":[
 {"data":{"name":"e4"},"mark":{"type":"point","filled":false,"size":18,"strokeWidth":0.8,"opacity":0.8},"encoding":{
  "x":{"field":"x","type":"quantitative","scale":{"domain":[-0.05,0.126],"nice":false,"zero":false},"axis":{"values":[-0.05,0,0.05,0.1],"labels":false,"domain":false,"tickSize":2.5,"tickColor":"#777","title":null}},
  "y":{"field":"y","type":"quantitative","scale":{"domain":[-0.05,0.13],"nice":false,"zero":false},"axis":{"values":[-0.04,-0.02,0,0.02,0.04,0.06,0.08,0.1,0.12],"labels":false,"domain":false,"tickSize":2.5,"tickColor":"#777","title":null}},
  "color":{"field":"c","type":"nominal","scale":{"domain":[0,1,2,3,4,5,6],"range":["#8b2be2","#2a2ae6","#e0358c","#f4a52a","#8fe08f","#3fe0e8","#9a9a9a"]},"legend":null}}},
 {"data":{"name":"xt"},"mark":{"type":"text","font":"DejaVu Sans","fontSize":5.5,"align":"center","baseline":"top","dy":2,"color":"#333"},"encoding":{"x":{"field":"t","type":"quantitative"},"y":{"datum":-0.05},"text":{"field":"t","type":"quantitative","format":".2f"}}},
 {"data":{"values":[{}]},"mark":{"type":"rule","color":"#000","strokeWidth":1},"encoding":{"x":{"datum":-0.05},"y":{"datum":-0.05},"x2":{"datum":0.12},"y2":{"datum":0.12}}},
 {"data":{"values":[{}]},"mark":{"type":"text","fontSize":14,"align":"right","baseline":"alphabetic","dx":-2,"dy":-2.5},"encoding":{"x":{"datum":0.126},"y":{"datum":-0.05},"text":{"value":"Magas 2"}}}
]},
{"width":178,"height":1,"data":{"values":[]},"mark":"point"},
{"width":116,"height":111,"view":{"stroke":"#a0a0a0","strokeWidth":1.5},"layer":[
 {"data":{"name":"f3"},"mark":{"type":"point","filled":false,"size":18,"strokeWidth":0.8,"opacity":0.8},"encoding":{
  "x":{"field":"x","type":"quantitative","scale":{"domain":[-0.05,0.126],"nice":false,"zero":false},"axis":{"values":[-0.05,0,0.05,0.1],"labels":false,"domain":false,"tickSize":2.5,"tickColor":"#777","title":"LL növekedés (poz. + viselk.)","titleFontSize":23,"titleX":117,"titleY":26,"titleAlign":"center","titleBaseline":"alphabetic"}},
  "y":{"field":"y","type":"quantitative","scale":{"domain":[-0.05,0.13],"nice":false,"zero":false},"axis":{"values":[-0.04,-0.02,0,0.02,0.04,0.06,0.08,0.1,0.12],"labels":false,"domain":false,"tickSize":2.5,"tickColor":"#777","title":null}},
  "color":{"field":"c","type":"nominal","scale":{"domain":[0,1,2,3,4,5,6],"range":["#8b2be2","#2a2ae6","#e0358c","#f4a52a","#8fe08f","#3fe0e8","#9a9a9a"]},"legend":null}}},
 {"data":{"name":"yt"},"mark":{"type":"text","font":"DejaVu Sans","fontSize":5.5,"align":"right","baseline":"middle","dx":-4,"color":"#333"},"encoding":{"x":{"datum":-0.05},"y":{"field":"t","type":"quantitative"},"text":{"field":"t","type":"quantitative","format":".2f"}}},
 {"data":{"name":"xt"},"mark":{"type":"text","font":"DejaVu Sans","fontSize":5.5,"align":"center","baseline":"top","dy":2,"color":"#333"},"encoding":{"x":{"field":"t","type":"quantitative"},"y":{"datum":-0.05},"text":{"field":"t","type":"quantitative","format":".2f"}}},
 {"data":{"values":[{}]},"mark":{"type":"rule","color":"#000","strokeWidth":1},"encoding":{"x":{"datum":-0.05},"y":{"datum":-0.05},"x2":{"datum":0.12},"y2":{"datum":0.12}}},
 {"data":{"values":[{}]},"mark":{"type":"text","fontSize":14,"align":"right","baseline":"alphabetic","dx":-2,"dy":-2.5},"encoding":{"x":{"datum":0.126},"y":{"datum":-0.05},"text":{"value":"Magas 1"}}}
]},
{"width":14,"height":1,"data":{"values":[]},"mark":"point"},
{"width":116,"height":111,"view":{"stroke":"#a0a0a0","strokeWidth":1.5},"layer":[
 {"data":{"name":"f4"},"mark":{"type":"point","filled":false,"size":18,"strokeWidth":0.8,"opacity":0.8},"encoding":{
  "x":{"field":"x","type":"quantitative","scale":{"domain":[-0.05,0.126],"nice":false,"zero":false},"axis":{"values":[-0.05,0,0.05,0.1],"labels":false,"domain":false,"tickSize":2.5,"tickColor":"#777","title":null}},
  "y":{"field":"y","type":"quantitative","scale":{"domain":[-0.05,0.13],"nice":false,"zero":false},"axis":{"values":[-0.04,-0.02,0,0.02,0.04,0.06,0.08,0.1,0.12],"labels":false,"domain":false,"tickSize":2.5,"tickColor":"#777","title":null}},
  "color":{"field":"c","type":"nominal","scale":{"domain":[0,1,2,3,4,5,6],"range":["#8b2be2","#2a2ae6","#e0358c","#f4a52a","#8fe08f","#3fe0e8","#9a9a9a"]},"legend":null}}},
 {"data":{"name":"xt"},"mark":{"type":"text","font":"DejaVu Sans","fontSize":5.5,"align":"center","baseline":"top","dy":2,"color":"#333"},"encoding":{"x":{"field":"t","type":"quantitative"},"y":{"datum":-0.05},"text":{"field":"t","type":"quantitative","format":".2f"}}},
 {"data":{"values":[{}]},"mark":{"type":"rule","color":"#000","strokeWidth":1},"encoding":{"x":{"datum":-0.05},"y":{"datum":-0.05},"x2":{"datum":0.12},"y2":{"datum":0.12}}},
 {"data":{"values":[{}]},"mark":{"type":"text","fontSize":14,"align":"right","baseline":"alphabetic","dx":-2,"dy":-2.5},"encoding":{"x":{"datum":0.126},"y":{"datum":-0.05},"text":{"value":"Magas 2"}}}
]},
{"width":144,"height":1,"data":{"values":[]},"mark":"point"},
{"width":116,"height":111,"view":{"stroke":"#a0a0a0","strokeWidth":1.5},"layer":[
 {"data":{"name":"g3"},"mark":{"type":"point","filled":false,"size":18,"strokeWidth":0.8,"opacity":0.8},"encoding":{
  "x":{"field":"x","type":"quantitative","scale":{"domain":[-0.05,0.126],"nice":false,"zero":false},"axis":{"values":[-0.05,0,0.05,0.1],"labels":false,"domain":false,"tickSize":2.5,"tickColor":"#777","title":"LL növekedés (poz. + viselk.)","titleFontSize":23,"titleX":119,"titleY":26,"titleAlign":"center","titleBaseline":"alphabetic"}},
  "y":{"field":"y","type":"quantitative","scale":{"domain":[-0.05,0.13],"nice":false,"zero":false},"axis":{"values":[-0.04,-0.02,0,0.02,0.04,0.06,0.08,0.1,0.12],"labels":false,"domain":false,"tickSize":2.5,"tickColor":"#777","title":null}},
  "color":{"field":"c","type":"nominal","scale":{"domain":[0,1,2,3,4,5,6],"range":["#8b2be2","#2a2ae6","#e0358c","#f4a52a","#8fe08f","#3fe0e8","#9a9a9a"]},"legend":null}}},
 {"data":{"name":"yt"},"mark":{"type":"text","font":"DejaVu Sans","fontSize":5.5,"align":"right","baseline":"middle","dx":-4,"color":"#333"},"encoding":{"x":{"datum":-0.05},"y":{"field":"t","type":"quantitative"},"text":{"field":"t","type":"quantitative","format":".2f"}}},
 {"data":{"name":"xt"},"mark":{"type":"text","font":"DejaVu Sans","fontSize":5.5,"align":"center","baseline":"top","dy":2,"color":"#333"},"encoding":{"x":{"field":"t","type":"quantitative"},"y":{"datum":-0.05},"text":{"field":"t","type":"quantitative","format":".2f"}}},
 {"data":{"values":[{}]},"mark":{"type":"rule","color":"#000","strokeWidth":1},"encoding":{"x":{"datum":-0.05},"y":{"datum":-0.05},"x2":{"datum":0.12},"y2":{"datum":0.12}}},
 {"data":{"values":[{}]},"mark":{"type":"text","fontSize":14,"align":"right","baseline":"alphabetic","dx":-2,"dy":-2.5},"encoding":{"x":{"datum":0.126},"y":{"datum":-0.05},"text":{"value":"Magas 1"}}}
]},
{"width":14,"height":1,"data":{"values":[]},"mark":"point"},
{"width":116,"height":111,"view":{"stroke":"#a0a0a0","strokeWidth":1.5},"layer":[
 {"data":{"name":"g4"},"mark":{"type":"point","filled":false,"size":18,"strokeWidth":0.8,"opacity":0.8},"encoding":{
  "x":{"field":"x","type":"quantitative","scale":{"domain":[-0.05,0.126],"nice":false,"zero":false},"axis":{"values":[-0.05,0,0.05,0.1],"labels":false,"domain":false,"tickSize":2.5,"tickColor":"#777","title":null}},
  "y":{"field":"y","type":"quantitative","scale":{"domain":[-0.05,0.13],"nice":false,"zero":false},"axis":{"values":[-0.04,-0.02,0,0.02,0.04,0.06,0.08,0.1,0.12],"labels":false,"domain":false,"tickSize":2.5,"tickColor":"#777","title":null}},
  "color":{"field":"c","type":"nominal","scale":{"domain":[0,1,2,3,4,5,6],"range":["#8b2be2","#2a2ae6","#e0358c","#f4a52a","#8fe08f","#3fe0e8","#9a9a9a"]},"legend":null}}},
 {"data":{"name":"xt"},"mark":{"type":"text","font":"DejaVu Sans","fontSize":5.5,"align":"center","baseline":"top","dy":2,"color":"#333"},"encoding":{"x":{"field":"t","type":"quantitative"},"y":{"datum":-0.05},"text":{"field":"t","type":"quantitative","format":".2f"}}},
 {"data":{"values":[{}]},"mark":{"type":"rule","color":"#000","strokeWidth":1},"encoding":{"x":{"datum":-0.05},"y":{"datum":-0.05},"x2":{"datum":0.12},"y2":{"datum":0.12}}},
 {"data":{"values":[{}]},"mark":{"type":"text","fontSize":14,"align":"right","baseline":"alphabetic","dx":-2,"dy":-2.5},"encoding":{"x":{"datum":0.126},"y":{"datum":-0.05},"text":{"value":"Magas 2"}}}
]}
]}
]
}
